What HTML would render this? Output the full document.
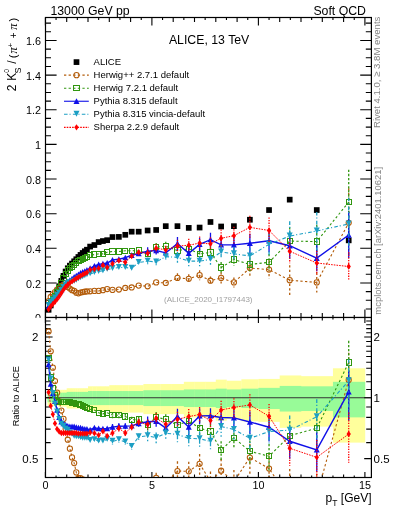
<!DOCTYPE html><html><head><meta charset="utf-8"><style>html,body{margin:0;padding:0;background:#fff;}svg{display:block;font-family:"Liberation Sans",sans-serif;will-change:transform;}</style></head><body>
<svg width="393" height="512" viewBox="0 0 393 512">
<rect width="393" height="512" fill="#fff"/>
<text x="50.4" y="14.5" font-size="12.3" fill="#000">13000 GeV pp</text>
<text x="366" y="14.5" font-size="12.3" fill="#000" text-anchor="end">Soft QCD</text>
<text transform="translate(379.7,128) rotate(-90)" font-size="9.6" fill="#858585">Rivet 4.1.0, ≥ 3.8M events</text>
<text transform="translate(380.8,314.7) rotate(-90)" font-size="9.45" fill="#858585">mcplots.cern.ch [arXiv:2401.10621]</text>
<defs><clipPath id="cu"><rect x="45.4" y="17.5" width="326" height="300"/></clipPath><clipPath id="cl"><rect x="45.4" y="317.5" width="326" height="160"/></clipPath></defs>
<text x="41" y="322.2" font-size="10.8" text-anchor="end" fill="#000">0</text>
<text x="41" y="287.56" font-size="10.8" text-anchor="end" fill="#000">0.2</text>
<text x="41" y="252.92" font-size="10.8" text-anchor="end" fill="#000">0.4</text>
<text x="41" y="218.28" font-size="10.8" text-anchor="end" fill="#000">0.6</text>
<text x="41" y="183.64" font-size="10.8" text-anchor="end" fill="#000">0.8</text>
<text x="41" y="149" font-size="10.8" text-anchor="end" fill="#000">1</text>
<text x="41" y="114.36" font-size="10.8" text-anchor="end" fill="#000">1.2</text>
<text x="41" y="79.72" font-size="10.8" text-anchor="end" fill="#000">1.4</text>
<text x="41" y="45.08" font-size="10.8" text-anchor="end" fill="#000">1.6</text>
<g transform="translate(16.3,90.8) rotate(-90)" fill="#000"><text x="-0.4" y="0" font-size="12">2</text><text x="10" y="0" font-size="12">K</text><text x="18" y="-7.6" font-size="6.8">0</text><text x="17.2" y="4.8" font-size="9">S</text><text x="27" y="-0.2" font-size="12">/</text><text x="32.6" y="0.3" font-size="11.5">(</text><text x="37.2" y="0.6" font-size="12.5" font-family="Liberation Serif" font-style="italic">π</text><text x="43.2" y="-3.8" font-size="8">+</text><text x="52.5" y="0.4" font-size="10">+</text><text x="61.1" y="0.6" font-size="12.5" font-family="Liberation Serif" font-style="italic">π</text><text x="69.4" y="0.3" font-size="11.5">)</text></g>
<path d="M45.4 17.5v8 M45.4 317.5v-8 M56.05 17.5v2.5 M56.05 317.5v-2.5 M66.7 17.5v4.5 M66.7 317.5v-4.5 M77.35 17.5v2.5 M77.35 317.5v-2.5 M88 17.5v4.5 M88 317.5v-4.5 M98.65 17.5v2.5 M98.65 317.5v-2.5 M109.3 17.5v4.5 M109.3 317.5v-4.5 M119.95 17.5v2.5 M119.95 317.5v-2.5 M130.6 17.5v4.5 M130.6 317.5v-4.5 M141.25 17.5v2.5 M141.25 317.5v-2.5 M151.9 17.5v8 M151.9 317.5v-8 M162.55 17.5v2.5 M162.55 317.5v-2.5 M173.2 17.5v4.5 M173.2 317.5v-4.5 M183.85 17.5v2.5 M183.85 317.5v-2.5 M194.5 17.5v4.5 M194.5 317.5v-4.5 M205.15 17.5v2.5 M205.15 317.5v-2.5 M215.8 17.5v4.5 M215.8 317.5v-4.5 M226.45 17.5v2.5 M226.45 317.5v-2.5 M237.1 17.5v4.5 M237.1 317.5v-4.5 M247.75 17.5v2.5 M247.75 317.5v-2.5 M258.4 17.5v8 M258.4 317.5v-8 M269.05 17.5v2.5 M269.05 317.5v-2.5 M279.7 17.5v4.5 M279.7 317.5v-4.5 M290.35 17.5v2.5 M290.35 317.5v-2.5 M301 17.5v4.5 M301 317.5v-4.5 M311.65 17.5v2.5 M311.65 317.5v-2.5 M322.3 17.5v4.5 M322.3 317.5v-4.5 M332.95 17.5v2.5 M332.95 317.5v-2.5 M343.6 17.5v4.5 M343.6 317.5v-4.5 M354.25 17.5v2.5 M354.25 317.5v-2.5 M364.9 17.5v8 M364.9 317.5v-8 M45.4 317.6h11.2 M371.4 317.6h-11.2 M45.4 308.94h5.6 M371.4 308.94h-5.6 M45.4 300.28h5.6 M371.4 300.28h-5.6 M45.4 291.62h5.6 M371.4 291.62h-5.6 M45.4 282.96h11.2 M371.4 282.96h-11.2 M45.4 274.3h5.6 M371.4 274.3h-5.6 M45.4 265.64h5.6 M371.4 265.64h-5.6 M45.4 256.98h5.6 M371.4 256.98h-5.6 M45.4 248.32h11.2 M371.4 248.32h-11.2 M45.4 239.66h5.6 M371.4 239.66h-5.6 M45.4 231h5.6 M371.4 231h-5.6 M45.4 222.34h5.6 M371.4 222.34h-5.6 M45.4 213.68h11.2 M371.4 213.68h-11.2 M45.4 205.02h5.6 M371.4 205.02h-5.6 M45.4 196.36h5.6 M371.4 196.36h-5.6 M45.4 187.7h5.6 M371.4 187.7h-5.6 M45.4 179.04h11.2 M371.4 179.04h-11.2 M45.4 170.38h5.6 M371.4 170.38h-5.6 M45.4 161.72h5.6 M371.4 161.72h-5.6 M45.4 153.06h5.6 M371.4 153.06h-5.6 M45.4 144.4h11.2 M371.4 144.4h-11.2 M45.4 135.74h5.6 M371.4 135.74h-5.6 M45.4 127.08h5.6 M371.4 127.08h-5.6 M45.4 118.42h5.6 M371.4 118.42h-5.6 M45.4 109.76h11.2 M371.4 109.76h-11.2 M45.4 101.1h5.6 M371.4 101.1h-5.6 M45.4 92.44h5.6 M371.4 92.44h-5.6 M45.4 83.78h5.6 M371.4 83.78h-5.6 M45.4 75.12h11.2 M371.4 75.12h-11.2 M45.4 66.46h5.6 M371.4 66.46h-5.6 M45.4 57.8h5.6 M371.4 57.8h-5.6 M45.4 49.14h5.6 M371.4 49.14h-5.6 M45.4 40.48h11.2 M371.4 40.48h-11.2 M45.4 31.82h5.6 M371.4 31.82h-5.6 M45.4 23.16h5.6 M371.4 23.16h-5.6" stroke="#000" stroke-width="1.1" fill="none"/>
<g clip-path="url(#cu)">
<text x="164" y="301.8" font-size="8" fill="#a0a0a0">(ALICE_2020_I1797443)</text>
<rect x="45.74" y="306.96" width="5.7" height="5.7" fill="#000"/>
<rect x="47.88" y="302.63" width="5.7" height="5.7" fill="#000"/>
<rect x="50" y="298.3" width="5.7" height="5.7" fill="#000"/>
<rect x="52.13" y="293.62" width="5.7" height="5.7" fill="#000"/>
<rect x="54.27" y="288.42" width="5.7" height="5.7" fill="#000"/>
<rect x="56.39" y="283.4" width="5.7" height="5.7" fill="#000"/>
<rect x="58.52" y="278.03" width="5.7" height="5.7" fill="#000"/>
<rect x="60.66" y="273.01" width="5.7" height="5.7" fill="#000"/>
<rect x="62.78" y="268.68" width="5.7" height="5.7" fill="#000"/>
<rect x="64.92" y="265.39" width="5.7" height="5.7" fill="#000"/>
<rect x="67.05" y="262.79" width="5.7" height="5.7" fill="#000"/>
<rect x="69.18" y="260.71" width="5.7" height="5.7" fill="#000"/>
<rect x="71.31" y="258.46" width="5.7" height="5.7" fill="#000"/>
<rect x="73.44" y="256.38" width="5.7" height="5.7" fill="#000"/>
<rect x="75.56" y="254.13" width="5.7" height="5.7" fill="#000"/>
<rect x="77.69" y="252.05" width="5.7" height="5.7" fill="#000"/>
<rect x="79.83" y="250.15" width="5.7" height="5.7" fill="#000"/>
<rect x="81.96" y="248.41" width="5.7" height="5.7" fill="#000"/>
<rect x="84.09" y="246.86" width="5.7" height="5.7" fill="#000"/>
<rect x="87.28" y="243.74" width="5.7" height="5.7" fill="#000"/>
<rect x="91.54" y="242.18" width="5.7" height="5.7" fill="#000"/>
<rect x="95.8" y="239.23" width="5.7" height="5.7" fill="#000"/>
<rect x="100.06" y="238.2" width="5.7" height="5.7" fill="#000"/>
<rect x="104.32" y="237.33" width="5.7" height="5.7" fill="#000"/>
<rect x="109.65" y="234.21" width="5.7" height="5.7" fill="#000"/>
<rect x="116.03" y="234.04" width="5.7" height="5.7" fill="#000"/>
<rect x="122.43" y="231.96" width="5.7" height="5.7" fill="#000"/>
<rect x="128.81" y="228.84" width="5.7" height="5.7" fill="#000"/>
<rect x="135.84" y="228.84" width="5.7" height="5.7" fill="#000"/>
<rect x="144.79" y="227.63" width="5.7" height="5.7" fill="#000"/>
<rect x="153.31" y="227.11" width="5.7" height="5.7" fill="#000"/>
<rect x="162.9" y="223.3" width="5.7" height="5.7" fill="#000"/>
<rect x="174.61" y="223.3" width="5.7" height="5.7" fill="#000"/>
<rect x="185.9" y="225.03" width="5.7" height="5.7" fill="#000"/>
<rect x="196.76" y="224.69" width="5.7" height="5.7" fill="#000"/>
<rect x="207.63" y="219.14" width="5.7" height="5.7" fill="#000"/>
<rect x="218.28" y="223.65" width="5.7" height="5.7" fill="#000"/>
<rect x="231.06" y="223.3" width="5.7" height="5.7" fill="#000"/>
<rect x="247.03" y="216.89" width="5.7" height="5.7" fill="#000"/>
<rect x="266.2" y="207.19" width="5.7" height="5.7" fill="#000"/>
<rect x="286.86" y="196.8" width="5.7" height="5.7" fill="#000"/>
<rect x="313.91" y="207.19" width="5.7" height="5.7" fill="#000"/>
<rect x="345.86" y="237.5" width="5.7" height="5.7" fill="#000"/>
<polyline points="48.59,301 50.73,296.99 52.85,294.4 54.98,292.03 57.12,289.69 59.24,287.5 61.38,285.84 63.51,284.79 65.63,285.35 67.77,287 69.89,288.5 72.03,290.2 74.16,290.86 76.28,292.68 78.41,293.35 80.54,292.52 82.67,292.08 84.81,291.73 86.94,291.46 90.13,291.27 94.39,290.93 98.65,290.93 102.91,290.23 107.17,289.02 112.5,289.89 118.88,289.54 125.28,287.98 131.66,287.46 138.69,285.56 147.64,286.25 156.16,282.44 165.75,282.96 177.46,277.94 188.75,278.8 199.61,275.17 210.48,280.71 221.12,277.94 233.91,282.44 249.88,268.06 269.05,269.62 289.71,280.19 316.76,282.44 348.71,222.86" fill="none" stroke="#b35c0a" stroke-width="1.1" stroke-dasharray="2.3,2.3"/>
<line x1="177.46" y1="273.3" x2="177.46" y2="282.58" stroke="#b35c0a" stroke-width="1.3" stroke-dasharray="2.3,2.3"/>
<line x1="188.75" y1="274.26" x2="188.75" y2="283.34" stroke="#b35c0a" stroke-width="1.3" stroke-dasharray="2.3,2.3"/>
<line x1="199.61" y1="270.2" x2="199.61" y2="280.13" stroke="#b35c0a" stroke-width="1.3" stroke-dasharray="2.3,2.3"/>
<line x1="210.48" y1="276.39" x2="210.48" y2="285.02" stroke="#b35c0a" stroke-width="1.3" stroke-dasharray="2.3,2.3"/>
<line x1="221.12" y1="272.27" x2="221.12" y2="283.61" stroke="#b35c0a" stroke-width="1.3" stroke-dasharray="2.3,2.3"/>
<line x1="233.91" y1="277.41" x2="233.91" y2="287.47" stroke="#b35c0a" stroke-width="1.3" stroke-dasharray="2.3,2.3"/>
<line x1="249.88" y1="259.69" x2="249.88" y2="276.44" stroke="#b35c0a" stroke-width="1.3" stroke-dasharray="2.3,2.3"/>
<line x1="269.05" y1="260.27" x2="269.05" y2="278.98" stroke="#b35c0a" stroke-width="1.3" stroke-dasharray="2.3,2.3"/>
<line x1="289.71" y1="265.22" x2="289.71" y2="295.15" stroke="#b35c0a" stroke-width="1.3" stroke-dasharray="2.3,2.3"/>
<line x1="316.76" y1="272.38" x2="316.76" y2="292.5" stroke="#b35c0a" stroke-width="1.3" stroke-dasharray="2.3,2.3"/>
<line x1="348.71" y1="188.37" x2="348.71" y2="257.35" stroke="#b35c0a" stroke-width="1.3" stroke-dasharray="2.3,2.3"/>
<circle cx="48.59" cy="301" r="2.6" fill="none" stroke="#b35c0a" stroke-width="1.05"/>
<circle cx="50.73" cy="296.99" r="2.6" fill="none" stroke="#b35c0a" stroke-width="1.05"/>
<circle cx="52.85" cy="294.4" r="2.6" fill="none" stroke="#b35c0a" stroke-width="1.05"/>
<circle cx="54.98" cy="292.03" r="2.6" fill="none" stroke="#b35c0a" stroke-width="1.05"/>
<circle cx="57.12" cy="289.69" r="2.6" fill="none" stroke="#b35c0a" stroke-width="1.05"/>
<circle cx="59.24" cy="287.5" r="2.6" fill="none" stroke="#b35c0a" stroke-width="1.05"/>
<circle cx="61.38" cy="285.84" r="2.6" fill="none" stroke="#b35c0a" stroke-width="1.05"/>
<circle cx="63.51" cy="284.79" r="2.6" fill="none" stroke="#b35c0a" stroke-width="1.05"/>
<circle cx="65.63" cy="285.35" r="2.6" fill="none" stroke="#b35c0a" stroke-width="1.05"/>
<circle cx="67.77" cy="287" r="2.6" fill="none" stroke="#b35c0a" stroke-width="1.05"/>
<circle cx="69.89" cy="288.5" r="2.6" fill="none" stroke="#b35c0a" stroke-width="1.05"/>
<circle cx="72.03" cy="290.2" r="2.6" fill="none" stroke="#b35c0a" stroke-width="1.05"/>
<circle cx="74.16" cy="290.86" r="2.6" fill="none" stroke="#b35c0a" stroke-width="1.05"/>
<circle cx="76.28" cy="292.68" r="2.6" fill="none" stroke="#b35c0a" stroke-width="1.05"/>
<circle cx="78.41" cy="293.35" r="2.6" fill="none" stroke="#b35c0a" stroke-width="1.05"/>
<circle cx="80.54" cy="292.52" r="2.6" fill="none" stroke="#b35c0a" stroke-width="1.05"/>
<circle cx="82.67" cy="292.08" r="2.6" fill="none" stroke="#b35c0a" stroke-width="1.05"/>
<circle cx="84.81" cy="291.73" r="2.6" fill="none" stroke="#b35c0a" stroke-width="1.05"/>
<circle cx="86.94" cy="291.46" r="2.6" fill="none" stroke="#b35c0a" stroke-width="1.05"/>
<circle cx="90.13" cy="291.27" r="2.6" fill="none" stroke="#b35c0a" stroke-width="1.05"/>
<circle cx="94.39" cy="290.93" r="2.6" fill="none" stroke="#b35c0a" stroke-width="1.05"/>
<circle cx="98.65" cy="290.93" r="2.6" fill="none" stroke="#b35c0a" stroke-width="1.05"/>
<circle cx="102.91" cy="290.23" r="2.6" fill="none" stroke="#b35c0a" stroke-width="1.05"/>
<circle cx="107.17" cy="289.02" r="2.6" fill="none" stroke="#b35c0a" stroke-width="1.05"/>
<circle cx="112.5" cy="289.89" r="2.6" fill="none" stroke="#b35c0a" stroke-width="1.05"/>
<circle cx="118.88" cy="289.54" r="2.6" fill="none" stroke="#b35c0a" stroke-width="1.05"/>
<circle cx="125.28" cy="287.98" r="2.6" fill="none" stroke="#b35c0a" stroke-width="1.05"/>
<circle cx="131.66" cy="287.46" r="2.6" fill="none" stroke="#b35c0a" stroke-width="1.05"/>
<circle cx="138.69" cy="285.56" r="2.6" fill="none" stroke="#b35c0a" stroke-width="1.05"/>
<circle cx="147.64" cy="286.25" r="2.6" fill="none" stroke="#b35c0a" stroke-width="1.05"/>
<circle cx="156.16" cy="282.44" r="2.6" fill="none" stroke="#b35c0a" stroke-width="1.05"/>
<circle cx="165.75" cy="282.96" r="2.6" fill="none" stroke="#b35c0a" stroke-width="1.05"/>
<circle cx="177.46" cy="277.94" r="2.6" fill="none" stroke="#b35c0a" stroke-width="1.05"/>
<circle cx="188.75" cy="278.8" r="2.6" fill="none" stroke="#b35c0a" stroke-width="1.05"/>
<circle cx="199.61" cy="275.17" r="2.6" fill="none" stroke="#b35c0a" stroke-width="1.05"/>
<circle cx="210.48" cy="280.71" r="2.6" fill="none" stroke="#b35c0a" stroke-width="1.05"/>
<circle cx="221.12" cy="277.94" r="2.6" fill="none" stroke="#b35c0a" stroke-width="1.05"/>
<circle cx="233.91" cy="282.44" r="2.6" fill="none" stroke="#b35c0a" stroke-width="1.05"/>
<circle cx="249.88" cy="268.06" r="2.6" fill="none" stroke="#b35c0a" stroke-width="1.05"/>
<circle cx="269.05" cy="269.62" r="2.6" fill="none" stroke="#b35c0a" stroke-width="1.05"/>
<circle cx="289.71" cy="280.19" r="2.6" fill="none" stroke="#b35c0a" stroke-width="1.05"/>
<circle cx="316.76" cy="282.44" r="2.6" fill="none" stroke="#b35c0a" stroke-width="1.05"/>
<circle cx="348.71" cy="222.86" r="2.6" fill="none" stroke="#b35c0a" stroke-width="1.05"/>
<polyline points="48.59,305.36 50.73,302.32 52.85,299.17 54.98,295.84 57.12,292.33 59.24,287.82 61.38,282.72 63.51,277.95 65.63,273.6 67.77,270.46 69.89,268.24 72.03,266.53 74.16,264.69 76.28,263.03 78.41,261.22 80.54,259.92 82.67,258.81 84.81,257.9 86.94,257.17 90.13,255.25 94.39,254.56 98.65,253.86 102.91,253.86 107.17,252.3 112.5,251.44 118.88,251.44 125.28,250.74 131.66,250.74 138.69,250.57 147.64,253.86 156.16,247.28 165.75,246.07 177.46,250.57 188.75,248.84 199.61,253.86 210.48,252.48 221.12,267.55 233.91,259.58 249.88,264.43 269.05,262.35 289.71,241.05 316.76,241.57 348.71,202.08" fill="none" stroke="#30960f" stroke-width="1.1" stroke-dasharray="2.3,2.3"/>
<line x1="147.64" y1="250.04" x2="147.64" y2="257.69" stroke="#30960f" stroke-width="1.3" stroke-dasharray="2.3,1.8"/>
<line x1="156.16" y1="243.06" x2="156.16" y2="251.5" stroke="#30960f" stroke-width="1.3" stroke-dasharray="2.3,1.8"/>
<line x1="165.75" y1="241.78" x2="165.75" y2="250.36" stroke="#30960f" stroke-width="1.3" stroke-dasharray="2.3,1.8"/>
<line x1="177.46" y1="244.54" x2="177.46" y2="256.6" stroke="#30960f" stroke-width="1.3" stroke-dasharray="2.3,1.8"/>
<line x1="188.75" y1="242.65" x2="188.75" y2="255.03" stroke="#30960f" stroke-width="1.3" stroke-dasharray="2.3,1.8"/>
<line x1="199.61" y1="248.13" x2="199.61" y2="259.6" stroke="#30960f" stroke-width="1.3" stroke-dasharray="2.3,1.8"/>
<line x1="210.48" y1="246.62" x2="210.48" y2="258.34" stroke="#30960f" stroke-width="1.3" stroke-dasharray="2.3,1.8"/>
<line x1="221.12" y1="262.04" x2="221.12" y2="273.05" stroke="#30960f" stroke-width="1.3" stroke-dasharray="2.3,1.8"/>
<line x1="233.91" y1="253.2" x2="233.91" y2="265.96" stroke="#30960f" stroke-width="1.3" stroke-dasharray="2.3,1.8"/>
<line x1="249.88" y1="257.52" x2="249.88" y2="271.34" stroke="#30960f" stroke-width="1.3" stroke-dasharray="2.3,1.8"/>
<line x1="269.05" y1="254.06" x2="269.05" y2="270.64" stroke="#30960f" stroke-width="1.3" stroke-dasharray="2.3,1.8"/>
<line x1="289.71" y1="227.27" x2="289.71" y2="254.83" stroke="#30960f" stroke-width="1.3" stroke-dasharray="2.3,1.8"/>
<line x1="316.76" y1="224.84" x2="316.76" y2="258.29" stroke="#30960f" stroke-width="1.3" stroke-dasharray="2.3,1.8"/>
<line x1="348.71" y1="169.73" x2="348.71" y2="234.42" stroke="#30960f" stroke-width="1.3" stroke-dasharray="2.3,1.8"/>
<rect x="45.99" y="302.76" width="5.2" height="5.2" fill="none" stroke="#30960f" stroke-width="1" shape-rendering="crispEdges"/>
<rect x="48.12" y="299.72" width="5.2" height="5.2" fill="none" stroke="#30960f" stroke-width="1" shape-rendering="crispEdges"/>
<rect x="50.25" y="296.57" width="5.2" height="5.2" fill="none" stroke="#30960f" stroke-width="1" shape-rendering="crispEdges"/>
<rect x="52.38" y="293.24" width="5.2" height="5.2" fill="none" stroke="#30960f" stroke-width="1" shape-rendering="crispEdges"/>
<rect x="54.52" y="289.73" width="5.2" height="5.2" fill="none" stroke="#30960f" stroke-width="1" shape-rendering="crispEdges"/>
<rect x="56.64" y="285.22" width="5.2" height="5.2" fill="none" stroke="#30960f" stroke-width="1" shape-rendering="crispEdges"/>
<rect x="58.77" y="280.12" width="5.2" height="5.2" fill="none" stroke="#30960f" stroke-width="1" shape-rendering="crispEdges"/>
<rect x="60.91" y="275.35" width="5.2" height="5.2" fill="none" stroke="#30960f" stroke-width="1" shape-rendering="crispEdges"/>
<rect x="63.03" y="271" width="5.2" height="5.2" fill="none" stroke="#30960f" stroke-width="1" shape-rendering="crispEdges"/>
<rect x="65.17" y="267.86" width="5.2" height="5.2" fill="none" stroke="#30960f" stroke-width="1" shape-rendering="crispEdges"/>
<rect x="67.3" y="265.64" width="5.2" height="5.2" fill="none" stroke="#30960f" stroke-width="1" shape-rendering="crispEdges"/>
<rect x="69.43" y="263.93" width="5.2" height="5.2" fill="none" stroke="#30960f" stroke-width="1" shape-rendering="crispEdges"/>
<rect x="71.56" y="262.09" width="5.2" height="5.2" fill="none" stroke="#30960f" stroke-width="1" shape-rendering="crispEdges"/>
<rect x="73.69" y="260.43" width="5.2" height="5.2" fill="none" stroke="#30960f" stroke-width="1" shape-rendering="crispEdges"/>
<rect x="75.81" y="258.62" width="5.2" height="5.2" fill="none" stroke="#30960f" stroke-width="1" shape-rendering="crispEdges"/>
<rect x="77.94" y="257.32" width="5.2" height="5.2" fill="none" stroke="#30960f" stroke-width="1" shape-rendering="crispEdges"/>
<rect x="80.08" y="256.21" width="5.2" height="5.2" fill="none" stroke="#30960f" stroke-width="1" shape-rendering="crispEdges"/>
<rect x="82.21" y="255.3" width="5.2" height="5.2" fill="none" stroke="#30960f" stroke-width="1" shape-rendering="crispEdges"/>
<rect x="84.34" y="254.57" width="5.2" height="5.2" fill="none" stroke="#30960f" stroke-width="1" shape-rendering="crispEdges"/>
<rect x="87.53" y="252.65" width="5.2" height="5.2" fill="none" stroke="#30960f" stroke-width="1" shape-rendering="crispEdges"/>
<rect x="91.79" y="251.96" width="5.2" height="5.2" fill="none" stroke="#30960f" stroke-width="1" shape-rendering="crispEdges"/>
<rect x="96.05" y="251.26" width="5.2" height="5.2" fill="none" stroke="#30960f" stroke-width="1" shape-rendering="crispEdges"/>
<rect x="100.31" y="251.26" width="5.2" height="5.2" fill="none" stroke="#30960f" stroke-width="1" shape-rendering="crispEdges"/>
<rect x="104.57" y="249.7" width="5.2" height="5.2" fill="none" stroke="#30960f" stroke-width="1" shape-rendering="crispEdges"/>
<rect x="109.9" y="248.84" width="5.2" height="5.2" fill="none" stroke="#30960f" stroke-width="1" shape-rendering="crispEdges"/>
<rect x="116.28" y="248.84" width="5.2" height="5.2" fill="none" stroke="#30960f" stroke-width="1" shape-rendering="crispEdges"/>
<rect x="122.68" y="248.14" width="5.2" height="5.2" fill="none" stroke="#30960f" stroke-width="1" shape-rendering="crispEdges"/>
<rect x="129.06" y="248.14" width="5.2" height="5.2" fill="none" stroke="#30960f" stroke-width="1" shape-rendering="crispEdges"/>
<rect x="136.09" y="247.97" width="5.2" height="5.2" fill="none" stroke="#30960f" stroke-width="1" shape-rendering="crispEdges"/>
<rect x="145.04" y="251.26" width="5.2" height="5.2" fill="none" stroke="#30960f" stroke-width="1" shape-rendering="crispEdges"/>
<rect x="153.56" y="244.68" width="5.2" height="5.2" fill="none" stroke="#30960f" stroke-width="1" shape-rendering="crispEdges"/>
<rect x="163.15" y="243.47" width="5.2" height="5.2" fill="none" stroke="#30960f" stroke-width="1" shape-rendering="crispEdges"/>
<rect x="174.86" y="247.97" width="5.2" height="5.2" fill="none" stroke="#30960f" stroke-width="1" shape-rendering="crispEdges"/>
<rect x="186.15" y="246.24" width="5.2" height="5.2" fill="none" stroke="#30960f" stroke-width="1" shape-rendering="crispEdges"/>
<rect x="197.01" y="251.26" width="5.2" height="5.2" fill="none" stroke="#30960f" stroke-width="1" shape-rendering="crispEdges"/>
<rect x="207.88" y="249.88" width="5.2" height="5.2" fill="none" stroke="#30960f" stroke-width="1" shape-rendering="crispEdges"/>
<rect x="218.53" y="264.95" width="5.2" height="5.2" fill="none" stroke="#30960f" stroke-width="1" shape-rendering="crispEdges"/>
<rect x="231.31" y="256.98" width="5.2" height="5.2" fill="none" stroke="#30960f" stroke-width="1" shape-rendering="crispEdges"/>
<rect x="247.28" y="261.83" width="5.2" height="5.2" fill="none" stroke="#30960f" stroke-width="1" shape-rendering="crispEdges"/>
<rect x="266.45" y="259.75" width="5.2" height="5.2" fill="none" stroke="#30960f" stroke-width="1" shape-rendering="crispEdges"/>
<rect x="287.11" y="238.45" width="5.2" height="5.2" fill="none" stroke="#30960f" stroke-width="1" shape-rendering="crispEdges"/>
<rect x="314.16" y="238.97" width="5.2" height="5.2" fill="none" stroke="#30960f" stroke-width="1" shape-rendering="crispEdges"/>
<rect x="346.11" y="199.48" width="5.2" height="5.2" fill="none" stroke="#30960f" stroke-width="1" shape-rendering="crispEdges"/>
<polyline points="48.59,306.22 50.73,303.41 52.85,300.32 54.98,297.31 57.12,294.7 59.24,292.52 61.38,289.69 63.51,286.5 65.63,283.74 67.77,281.81 69.89,280.19 72.03,278.69 74.16,277.07 76.28,275.87 78.41,274.56 80.54,273.08 82.67,272.05 84.81,271.17 86.94,270.07 90.13,268.24 94.39,265.99 98.65,264.43 102.91,263.73 107.17,263.04 112.5,259.92 118.88,259.23 125.28,257.67 131.66,255.25 138.69,253.52 147.64,251.26 156.16,250.57 165.75,252.82 177.46,243.64 188.75,253.34 199.61,244.34 210.48,239.66 221.12,244.86 233.91,244.86 249.88,243.3 269.05,240.7 289.71,245.72 316.76,258.19 348.71,234.98" fill="none" stroke="#1010e8" stroke-width="1.4"/>
<line x1="147.64" y1="247.28" x2="147.64" y2="255.24" stroke="#1010e8" stroke-width="1.3"/>
<line x1="156.16" y1="246.55" x2="156.16" y2="254.59" stroke="#1010e8" stroke-width="1.3"/>
<line x1="165.75" y1="248.94" x2="165.75" y2="256.71" stroke="#1010e8" stroke-width="1.3"/>
<line x1="177.46" y1="236.99" x2="177.46" y2="250.3" stroke="#1010e8" stroke-width="1.3"/>
<line x1="188.75" y1="247.56" x2="188.75" y2="259.13" stroke="#1010e8" stroke-width="1.3"/>
<line x1="199.61" y1="237.74" x2="199.61" y2="250.93" stroke="#1010e8" stroke-width="1.3"/>
<line x1="210.48" y1="232.65" x2="210.48" y2="246.67" stroke="#1010e8" stroke-width="1.3"/>
<line x1="221.12" y1="236.85" x2="221.12" y2="252.86" stroke="#1010e8" stroke-width="1.3"/>
<line x1="233.91" y1="236.85" x2="233.91" y2="252.86" stroke="#1010e8" stroke-width="1.3"/>
<line x1="249.88" y1="233.64" x2="249.88" y2="252.96" stroke="#1010e8" stroke-width="1.3"/>
<line x1="269.05" y1="229.16" x2="269.05" y2="252.23" stroke="#1010e8" stroke-width="1.3"/>
<line x1="289.71" y1="232.78" x2="289.71" y2="258.66" stroke="#1010e8" stroke-width="1.3"/>
<line x1="316.76" y1="245.12" x2="316.76" y2="271.26" stroke="#1010e8" stroke-width="1.3"/>
<line x1="348.71" y1="211.85" x2="348.71" y2="258.12" stroke="#1010e8" stroke-width="1.3"/>
<path d="M48.59 303.22l3 5.7h-6z" fill="#1010e8"/>
<path d="M50.73 300.41l3 5.7h-6z" fill="#1010e8"/>
<path d="M52.85 297.32l3 5.7h-6z" fill="#1010e8"/>
<path d="M54.98 294.31l3 5.7h-6z" fill="#1010e8"/>
<path d="M57.12 291.7l3 5.7h-6z" fill="#1010e8"/>
<path d="M59.24 289.52l3 5.7h-6z" fill="#1010e8"/>
<path d="M61.38 286.69l3 5.7h-6z" fill="#1010e8"/>
<path d="M63.51 283.5l3 5.7h-6z" fill="#1010e8"/>
<path d="M65.63 280.74l3 5.7h-6z" fill="#1010e8"/>
<path d="M67.77 278.81l3 5.7h-6z" fill="#1010e8"/>
<path d="M69.89 277.19l3 5.7h-6z" fill="#1010e8"/>
<path d="M72.03 275.69l3 5.7h-6z" fill="#1010e8"/>
<path d="M74.16 274.07l3 5.7h-6z" fill="#1010e8"/>
<path d="M76.28 272.87l3 5.7h-6z" fill="#1010e8"/>
<path d="M78.41 271.56l3 5.7h-6z" fill="#1010e8"/>
<path d="M80.54 270.08l3 5.7h-6z" fill="#1010e8"/>
<path d="M82.67 269.05l3 5.7h-6z" fill="#1010e8"/>
<path d="M84.81 268.17l3 5.7h-6z" fill="#1010e8"/>
<path d="M86.94 267.07l3 5.7h-6z" fill="#1010e8"/>
<path d="M90.13 265.24l3 5.7h-6z" fill="#1010e8"/>
<path d="M94.39 262.99l3 5.7h-6z" fill="#1010e8"/>
<path d="M98.65 261.43l3 5.7h-6z" fill="#1010e8"/>
<path d="M102.91 260.73l3 5.7h-6z" fill="#1010e8"/>
<path d="M107.17 260.04l3 5.7h-6z" fill="#1010e8"/>
<path d="M112.5 256.92l3 5.7h-6z" fill="#1010e8"/>
<path d="M118.88 256.23l3 5.7h-6z" fill="#1010e8"/>
<path d="M125.28 254.67l3 5.7h-6z" fill="#1010e8"/>
<path d="M131.66 252.25l3 5.7h-6z" fill="#1010e8"/>
<path d="M138.69 250.52l3 5.7h-6z" fill="#1010e8"/>
<path d="M147.64 248.26l3 5.7h-6z" fill="#1010e8"/>
<path d="M156.16 247.57l3 5.7h-6z" fill="#1010e8"/>
<path d="M165.75 249.82l3 5.7h-6z" fill="#1010e8"/>
<path d="M177.46 240.64l3 5.7h-6z" fill="#1010e8"/>
<path d="M188.75 250.34l3 5.7h-6z" fill="#1010e8"/>
<path d="M199.61 241.34l3 5.7h-6z" fill="#1010e8"/>
<path d="M210.48 236.66l3 5.7h-6z" fill="#1010e8"/>
<path d="M221.12 241.86l3 5.7h-6z" fill="#1010e8"/>
<path d="M233.91 241.86l3 5.7h-6z" fill="#1010e8"/>
<path d="M249.88 240.3l3 5.7h-6z" fill="#1010e8"/>
<path d="M269.05 237.7l3 5.7h-6z" fill="#1010e8"/>
<path d="M289.71 242.72l3 5.7h-6z" fill="#1010e8"/>
<path d="M316.76 255.19l3 5.7h-6z" fill="#1010e8"/>
<path d="M348.71 231.98l3 5.7h-6z" fill="#1010e8"/>
<polyline points="48.59,305.6 50.73,302.57 52.85,300.32 54.98,297.95 57.12,295.22 59.24,293.15 61.38,290.43 63.51,287.55 65.63,285.35 67.77,283.54 69.89,282.79 72.03,281.93 74.16,281.29 76.28,280.24 78.41,278.8 80.54,277.79 82.67,276.9 84.81,275.81 86.94,274.83 90.13,273.95 94.39,272.57 98.65,271.53 102.91,270.84 107.17,269.45 112.5,268.58 118.88,267.55 125.28,267.55 131.66,268.24 138.69,262.52 147.64,261.14 156.16,262 165.75,256.63 177.46,257.33 188.75,261.14 199.61,261.14 210.48,259.4 221.12,251.96 233.91,253.86 249.88,255.94 269.05,244.34 289.71,236.02 316.76,231 348.71,223.9" fill="none" stroke="#1c9fc4" stroke-width="1.1" stroke-dasharray="3.6,1.9,1.1,2.3"/>
<line x1="147.64" y1="257.75" x2="147.64" y2="264.52" stroke="#1c9fc4" stroke-width="1.3" stroke-dasharray="3.6,1.9,1.1,2.3"/>
<line x1="156.16" y1="258.67" x2="156.16" y2="265.34" stroke="#1c9fc4" stroke-width="1.3" stroke-dasharray="3.6,1.9,1.1,2.3"/>
<line x1="165.75" y1="252.98" x2="165.75" y2="260.29" stroke="#1c9fc4" stroke-width="1.3" stroke-dasharray="3.6,1.9,1.1,2.3"/>
<line x1="177.46" y1="251.9" x2="177.46" y2="262.75" stroke="#1c9fc4" stroke-width="1.3" stroke-dasharray="3.6,1.9,1.1,2.3"/>
<line x1="188.75" y1="256.06" x2="188.75" y2="266.22" stroke="#1c9fc4" stroke-width="1.3" stroke-dasharray="3.6,1.9,1.1,2.3"/>
<line x1="199.61" y1="256.06" x2="199.61" y2="266.22" stroke="#1c9fc4" stroke-width="1.3" stroke-dasharray="3.6,1.9,1.1,2.3"/>
<line x1="210.48" y1="254.17" x2="210.48" y2="264.64" stroke="#1c9fc4" stroke-width="1.3" stroke-dasharray="3.6,1.9,1.1,2.3"/>
<line x1="221.12" y1="244.74" x2="221.12" y2="259.18" stroke="#1c9fc4" stroke-width="1.3" stroke-dasharray="3.6,1.9,1.1,2.3"/>
<line x1="233.91" y1="246.85" x2="233.91" y2="260.87" stroke="#1c9fc4" stroke-width="1.3" stroke-dasharray="3.6,1.9,1.1,2.3"/>
<line x1="249.88" y1="247.93" x2="249.88" y2="263.96" stroke="#1c9fc4" stroke-width="1.3" stroke-dasharray="3.6,1.9,1.1,2.3"/>
<line x1="269.05" y1="233.35" x2="269.05" y2="255.33" stroke="#1c9fc4" stroke-width="1.3" stroke-dasharray="3.6,1.9,1.1,2.3"/>
<line x1="289.71" y1="221.34" x2="289.71" y2="250.71" stroke="#1c9fc4" stroke-width="1.3" stroke-dasharray="3.6,1.9,1.1,2.3"/>
<line x1="316.76" y1="211.95" x2="316.76" y2="250.05" stroke="#1c9fc4" stroke-width="1.3" stroke-dasharray="3.6,1.9,1.1,2.3"/>
<line x1="348.71" y1="197.66" x2="348.71" y2="250.14" stroke="#1c9fc4" stroke-width="1.3" stroke-dasharray="3.6,1.9,1.1,2.3"/>
<path d="M45.59 302.1h6l-3 5.9z" fill="#1c9fc4"/>
<path d="M47.73 299.07h6l-3 5.9z" fill="#1c9fc4"/>
<path d="M49.85 296.82h6l-3 5.9z" fill="#1c9fc4"/>
<path d="M51.98 294.45h6l-3 5.9z" fill="#1c9fc4"/>
<path d="M54.12 291.72h6l-3 5.9z" fill="#1c9fc4"/>
<path d="M56.24 289.65h6l-3 5.9z" fill="#1c9fc4"/>
<path d="M58.38 286.93h6l-3 5.9z" fill="#1c9fc4"/>
<path d="M60.51 284.05h6l-3 5.9z" fill="#1c9fc4"/>
<path d="M62.63 281.85h6l-3 5.9z" fill="#1c9fc4"/>
<path d="M64.77 280.04h6l-3 5.9z" fill="#1c9fc4"/>
<path d="M66.89 279.29h6l-3 5.9z" fill="#1c9fc4"/>
<path d="M69.03 278.43h6l-3 5.9z" fill="#1c9fc4"/>
<path d="M71.16 277.79h6l-3 5.9z" fill="#1c9fc4"/>
<path d="M73.28 276.74h6l-3 5.9z" fill="#1c9fc4"/>
<path d="M75.41 275.3h6l-3 5.9z" fill="#1c9fc4"/>
<path d="M77.54 274.29h6l-3 5.9z" fill="#1c9fc4"/>
<path d="M79.67 273.4h6l-3 5.9z" fill="#1c9fc4"/>
<path d="M81.81 272.31h6l-3 5.9z" fill="#1c9fc4"/>
<path d="M83.94 271.33h6l-3 5.9z" fill="#1c9fc4"/>
<path d="M87.13 270.45h6l-3 5.9z" fill="#1c9fc4"/>
<path d="M91.39 269.07h6l-3 5.9z" fill="#1c9fc4"/>
<path d="M95.65 268.03h6l-3 5.9z" fill="#1c9fc4"/>
<path d="M99.91 267.34h6l-3 5.9z" fill="#1c9fc4"/>
<path d="M104.17 265.95h6l-3 5.9z" fill="#1c9fc4"/>
<path d="M109.5 265.08h6l-3 5.9z" fill="#1c9fc4"/>
<path d="M115.88 264.05h6l-3 5.9z" fill="#1c9fc4"/>
<path d="M122.28 264.05h6l-3 5.9z" fill="#1c9fc4"/>
<path d="M128.66 264.74h6l-3 5.9z" fill="#1c9fc4"/>
<path d="M135.69 259.02h6l-3 5.9z" fill="#1c9fc4"/>
<path d="M144.64 257.64h6l-3 5.9z" fill="#1c9fc4"/>
<path d="M153.16 258.5h6l-3 5.9z" fill="#1c9fc4"/>
<path d="M162.75 253.13h6l-3 5.9z" fill="#1c9fc4"/>
<path d="M174.46 253.83h6l-3 5.9z" fill="#1c9fc4"/>
<path d="M185.75 257.64h6l-3 5.9z" fill="#1c9fc4"/>
<path d="M196.61 257.64h6l-3 5.9z" fill="#1c9fc4"/>
<path d="M207.48 255.9h6l-3 5.9z" fill="#1c9fc4"/>
<path d="M218.12 248.46h6l-3 5.9z" fill="#1c9fc4"/>
<path d="M230.91 250.36h6l-3 5.9z" fill="#1c9fc4"/>
<path d="M246.88 252.44h6l-3 5.9z" fill="#1c9fc4"/>
<path d="M266.05 240.84h6l-3 5.9z" fill="#1c9fc4"/>
<path d="M286.71 232.52h6l-3 5.9z" fill="#1c9fc4"/>
<path d="M313.76 227.5h6l-3 5.9z" fill="#1c9fc4"/>
<path d="M345.71 220.4h6l-3 5.9z" fill="#1c9fc4"/>
<polyline points="48.59,309.29 50.73,306.54 52.85,303.98 54.98,301.82 57.12,299.17 59.24,296.28 61.38,293 63.51,289.63 65.63,286.73 67.77,284.53 69.89,282.79 72.03,281.39 74.16,279.89 76.28,278.49 78.41,277.29 80.54,275.91 82.67,274.64 84.81,273.49 86.94,272.45 90.13,269.8 94.39,269.1 98.65,268.24 102.91,265.29 107.17,267.55 112.5,263.73 118.88,260.62 125.28,262.18 131.66,256.11 138.69,252.3 147.64,253.34 156.16,248.15 165.75,249.88 177.46,246.07 188.75,245.2 199.61,243.12 210.48,243.82 221.12,238.27 233.91,235.68 249.88,227.36 269.05,230.48 289.71,251.26 316.76,263.04 348.71,266.51" fill="none" stroke="#ff0000" stroke-width="1.0" stroke-dasharray="1.6,1.1"/>
<line x1="147.64" y1="249.49" x2="147.64" y2="257.2" stroke="#ff0000" stroke-width="1.3" stroke-dasharray="1.3,1.3"/>
<line x1="156.16" y1="243.98" x2="156.16" y2="252.31" stroke="#ff0000" stroke-width="1.3" stroke-dasharray="1.3,1.3"/>
<line x1="165.75" y1="245.82" x2="165.75" y2="253.94" stroke="#ff0000" stroke-width="1.3" stroke-dasharray="1.3,1.3"/>
<line x1="177.46" y1="239.63" x2="177.46" y2="252.51" stroke="#ff0000" stroke-width="1.3" stroke-dasharray="1.3,1.3"/>
<line x1="188.75" y1="238.69" x2="188.75" y2="251.72" stroke="#ff0000" stroke-width="1.3" stroke-dasharray="1.3,1.3"/>
<line x1="199.61" y1="236.42" x2="199.61" y2="249.83" stroke="#ff0000" stroke-width="1.3" stroke-dasharray="1.3,1.3"/>
<line x1="210.48" y1="237.18" x2="210.48" y2="250.46" stroke="#ff0000" stroke-width="1.3" stroke-dasharray="1.3,1.3"/>
<line x1="221.12" y1="229.55" x2="221.12" y2="247" stroke="#ff0000" stroke-width="1.3" stroke-dasharray="1.3,1.3"/>
<line x1="233.91" y1="226.66" x2="233.91" y2="244.69" stroke="#ff0000" stroke-width="1.3" stroke-dasharray="1.3,1.3"/>
<line x1="249.88" y1="215.63" x2="249.88" y2="239.09" stroke="#ff0000" stroke-width="1.3" stroke-dasharray="1.3,1.3"/>
<line x1="269.05" y1="217.41" x2="269.05" y2="243.55" stroke="#ff0000" stroke-width="1.3" stroke-dasharray="1.3,1.3"/>
<line x1="289.71" y1="239.32" x2="289.71" y2="263.2" stroke="#ff0000" stroke-width="1.3" stroke-dasharray="1.3,1.3"/>
<line x1="316.76" y1="251.04" x2="316.76" y2="275.04" stroke="#ff0000" stroke-width="1.3" stroke-dasharray="1.3,1.3"/>
<line x1="348.71" y1="252.2" x2="348.71" y2="280.81" stroke="#ff0000" stroke-width="1.3" stroke-dasharray="1.3,1.3"/>
<path d="M48.59 306.09l2.15 3.2l-2.15 3.2l-2.15 -3.2z" fill="#ff0000"/>
<path d="M50.73 303.34l2.15 3.2l-2.15 3.2l-2.15 -3.2z" fill="#ff0000"/>
<path d="M52.85 300.78l2.15 3.2l-2.15 3.2l-2.15 -3.2z" fill="#ff0000"/>
<path d="M54.98 298.62l2.15 3.2l-2.15 3.2l-2.15 -3.2z" fill="#ff0000"/>
<path d="M57.12 295.97l2.15 3.2l-2.15 3.2l-2.15 -3.2z" fill="#ff0000"/>
<path d="M59.24 293.08l2.15 3.2l-2.15 3.2l-2.15 -3.2z" fill="#ff0000"/>
<path d="M61.38 289.8l2.15 3.2l-2.15 3.2l-2.15 -3.2z" fill="#ff0000"/>
<path d="M63.51 286.43l2.15 3.2l-2.15 3.2l-2.15 -3.2z" fill="#ff0000"/>
<path d="M65.63 283.53l2.15 3.2l-2.15 3.2l-2.15 -3.2z" fill="#ff0000"/>
<path d="M67.77 281.33l2.15 3.2l-2.15 3.2l-2.15 -3.2z" fill="#ff0000"/>
<path d="M69.89 279.59l2.15 3.2l-2.15 3.2l-2.15 -3.2z" fill="#ff0000"/>
<path d="M72.03 278.19l2.15 3.2l-2.15 3.2l-2.15 -3.2z" fill="#ff0000"/>
<path d="M74.16 276.69l2.15 3.2l-2.15 3.2l-2.15 -3.2z" fill="#ff0000"/>
<path d="M76.28 275.29l2.15 3.2l-2.15 3.2l-2.15 -3.2z" fill="#ff0000"/>
<path d="M78.41 274.09l2.15 3.2l-2.15 3.2l-2.15 -3.2z" fill="#ff0000"/>
<path d="M80.54 272.71l2.15 3.2l-2.15 3.2l-2.15 -3.2z" fill="#ff0000"/>
<path d="M82.67 271.44l2.15 3.2l-2.15 3.2l-2.15 -3.2z" fill="#ff0000"/>
<path d="M84.81 270.29l2.15 3.2l-2.15 3.2l-2.15 -3.2z" fill="#ff0000"/>
<path d="M86.94 269.25l2.15 3.2l-2.15 3.2l-2.15 -3.2z" fill="#ff0000"/>
<path d="M90.13 266.6l2.15 3.2l-2.15 3.2l-2.15 -3.2z" fill="#ff0000"/>
<path d="M94.39 265.9l2.15 3.2l-2.15 3.2l-2.15 -3.2z" fill="#ff0000"/>
<path d="M98.65 265.04l2.15 3.2l-2.15 3.2l-2.15 -3.2z" fill="#ff0000"/>
<path d="M102.91 262.09l2.15 3.2l-2.15 3.2l-2.15 -3.2z" fill="#ff0000"/>
<path d="M107.17 264.35l2.15 3.2l-2.15 3.2l-2.15 -3.2z" fill="#ff0000"/>
<path d="M112.5 260.53l2.15 3.2l-2.15 3.2l-2.15 -3.2z" fill="#ff0000"/>
<path d="M118.88 257.42l2.15 3.2l-2.15 3.2l-2.15 -3.2z" fill="#ff0000"/>
<path d="M125.28 258.98l2.15 3.2l-2.15 3.2l-2.15 -3.2z" fill="#ff0000"/>
<path d="M131.66 252.91l2.15 3.2l-2.15 3.2l-2.15 -3.2z" fill="#ff0000"/>
<path d="M138.69 249.1l2.15 3.2l-2.15 3.2l-2.15 -3.2z" fill="#ff0000"/>
<path d="M147.64 250.14l2.15 3.2l-2.15 3.2l-2.15 -3.2z" fill="#ff0000"/>
<path d="M156.16 244.95l2.15 3.2l-2.15 3.2l-2.15 -3.2z" fill="#ff0000"/>
<path d="M165.75 246.68l2.15 3.2l-2.15 3.2l-2.15 -3.2z" fill="#ff0000"/>
<path d="M177.46 242.87l2.15 3.2l-2.15 3.2l-2.15 -3.2z" fill="#ff0000"/>
<path d="M188.75 242l2.15 3.2l-2.15 3.2l-2.15 -3.2z" fill="#ff0000"/>
<path d="M199.61 239.92l2.15 3.2l-2.15 3.2l-2.15 -3.2z" fill="#ff0000"/>
<path d="M210.48 240.62l2.15 3.2l-2.15 3.2l-2.15 -3.2z" fill="#ff0000"/>
<path d="M221.12 235.07l2.15 3.2l-2.15 3.2l-2.15 -3.2z" fill="#ff0000"/>
<path d="M233.91 232.48l2.15 3.2l-2.15 3.2l-2.15 -3.2z" fill="#ff0000"/>
<path d="M249.88 224.16l2.15 3.2l-2.15 3.2l-2.15 -3.2z" fill="#ff0000"/>
<path d="M269.05 227.28l2.15 3.2l-2.15 3.2l-2.15 -3.2z" fill="#ff0000"/>
<path d="M289.71 248.06l2.15 3.2l-2.15 3.2l-2.15 -3.2z" fill="#ff0000"/>
<path d="M316.76 259.84l2.15 3.2l-2.15 3.2l-2.15 -3.2z" fill="#ff0000"/>
<path d="M348.71 263.31l2.15 3.2l-2.15 3.2l-2.15 -3.2z" fill="#ff0000"/>
</g>
<text x="168.9" y="44" font-size="12.3" fill="#000">ALICE, 13 TeV</text>
<rect x="73.65" y="59.25" width="5.7" height="5.7" fill="#000"/>
<text x="93.6" y="65" font-size="9.5" fill="#000">ALICE</text>
<line x1="64" y1="75.15" x2="88.8" y2="75.15" stroke="#b35c0a" stroke-width="1.1" stroke-dasharray="2.3,2.3"/>
<circle cx="76.5" cy="75.15" r="2.6" fill="none" stroke="#b35c0a" stroke-width="1.05"/>
<text x="93.6" y="78.05" font-size="9.5" fill="#000">Herwig++ 2.7.1 default</text>
<line x1="64" y1="88.2" x2="88.8" y2="88.2" stroke="#30960f" stroke-width="1.1" stroke-dasharray="2.3,2.3"/>
<rect x="73.9" y="85.6" width="5.2" height="5.2" fill="none" stroke="#30960f" stroke-width="1" shape-rendering="crispEdges"/>
<text x="93.6" y="91.1" font-size="9.5" fill="#000">Herwig 7.2.1 default</text>
<line x1="64" y1="101.25" x2="88.8" y2="101.25" stroke="#1010e8" stroke-width="1.1"/>
<path d="M76.5 98.25l3 5.7h-6z" fill="#1010e8"/>
<text x="93.6" y="104.15" font-size="9.5" fill="#000">Pythia 8.315 default</text>
<line x1="64" y1="114.3" x2="88.8" y2="114.3" stroke="#1c9fc4" stroke-width="1.1" stroke-dasharray="3.6,1.9,1.1,2.3"/>
<path d="M73.5 110.8h6l-3 5.9z" fill="#1c9fc4"/>
<text x="93.6" y="117.2" font-size="9.5" fill="#000">Pythia 8.315 vincia-default</text>
<line x1="64" y1="127.35" x2="88.8" y2="127.35" stroke="#ff0000" stroke-width="1.1" stroke-dasharray="1.6,1.1"/>
<path d="M76.5 124.15l2.15 3.2l-2.15 3.2l-2.15 -3.2z" fill="#ff0000"/>
<text x="93.6" y="130.25" font-size="9.5" fill="#000">Sherpa 2.2.9 default</text>
<rect x="45.5" y="17.5" width="325.9" height="300" fill="none" stroke="#000" stroke-width="1.2"/>
<rect x="0" y="317.8" width="393" height="194.2" fill="#fff"/>
<g fill="#ffff9c"><rect x="47.53" y="390.64" width="2.43" height="14.95"/><rect x="49.66" y="390.64" width="2.43" height="14.95"/><rect x="51.79" y="390.64" width="2.43" height="14.95"/><rect x="53.92" y="390.64" width="2.43" height="14.95"/><rect x="56.05" y="390.64" width="2.43" height="14.95"/><rect x="58.18" y="389.84" width="2.43" height="16.72"/><rect x="60.31" y="389.84" width="2.43" height="16.72"/><rect x="62.44" y="389.84" width="2.43" height="16.72"/><rect x="64.57" y="389.84" width="2.43" height="16.72"/><rect x="66.7" y="388.25" width="2.43" height="20.26"/><rect x="68.83" y="388.25" width="2.43" height="20.26"/><rect x="70.96" y="388.25" width="2.43" height="20.26"/><rect x="73.09" y="388.25" width="2.43" height="20.26"/><rect x="75.22" y="388.25" width="2.43" height="20.26"/><rect x="77.35" y="388.25" width="2.43" height="20.26"/><rect x="79.48" y="388.25" width="2.43" height="20.26"/><rect x="81.61" y="388.25" width="2.43" height="20.26"/><rect x="83.74" y="388.25" width="2.43" height="20.26"/><rect x="85.87" y="388.25" width="2.43" height="20.26"/><rect x="88" y="386.31" width="4.56" height="24.72"/><rect x="92.26" y="386.31" width="4.56" height="24.72"/><rect x="96.52" y="386.31" width="4.56" height="24.72"/><rect x="100.78" y="386.31" width="4.56" height="24.72"/><rect x="105.04" y="386.31" width="4.56" height="24.72"/><rect x="109.3" y="385.16" width="6.69" height="27.41"/><rect x="115.69" y="385.16" width="6.69" height="27.41"/><rect x="122.08" y="385.16" width="6.69" height="27.41"/><rect x="128.47" y="385.16" width="6.69" height="27.41"/><rect x="134.86" y="385.16" width="8.82" height="27.41"/><rect x="143.38" y="384.03" width="8.82" height="30.12"/><rect x="151.9" y="384.03" width="8.82" height="30.12"/><rect x="160.42" y="384.03" width="10.95" height="30.12"/><rect x="171.07" y="384.03" width="13.08" height="30.12"/><rect x="183.85" y="381.81" width="10.95" height="35.57"/><rect x="194.5" y="381.81" width="10.95" height="35.57"/><rect x="205.15" y="381.81" width="10.95" height="35.57"/><rect x="215.8" y="379.64" width="10.95" height="41.08"/><rect x="226.45" y="380.72" width="15.21" height="38.32"/><rect x="241.36" y="379.29" width="17.34" height="42.01"/><rect x="258.4" y="378.93" width="21.6" height="42.94"/><rect x="279.7" y="375.46" width="21.6" height="52.38"/><rect x="301" y="376.15" width="32.25" height="50.47"/><rect x="332.95" y="368.29" width="32.25" height="74.32"/></g>
<g fill="#98fb98"><rect x="47.53" y="393.52" width="2.43" height="8.78"/><rect x="49.66" y="393.52" width="2.43" height="8.78"/><rect x="51.79" y="393.52" width="2.43" height="8.78"/><rect x="53.92" y="393.52" width="2.43" height="8.78"/><rect x="56.05" y="393.52" width="2.43" height="8.78"/><rect x="58.18" y="392.69" width="2.43" height="10.54"/><rect x="60.31" y="392.69" width="2.43" height="10.54"/><rect x="62.44" y="392.69" width="2.43" height="10.54"/><rect x="64.57" y="392.69" width="2.43" height="10.54"/><rect x="66.7" y="391.87" width="2.43" height="12.3"/><rect x="68.83" y="391.87" width="2.43" height="12.3"/><rect x="70.96" y="391.87" width="2.43" height="12.3"/><rect x="73.09" y="391.87" width="2.43" height="12.3"/><rect x="75.22" y="391.87" width="2.43" height="12.3"/><rect x="77.35" y="391.87" width="2.43" height="12.3"/><rect x="79.48" y="391.87" width="2.43" height="12.3"/><rect x="81.61" y="391.87" width="2.43" height="12.3"/><rect x="83.74" y="391.87" width="2.43" height="12.3"/><rect x="85.87" y="391.87" width="2.43" height="12.3"/><rect x="88" y="391.05" width="4.56" height="14.06"/><rect x="92.26" y="391.05" width="4.56" height="14.06"/><rect x="96.52" y="391.05" width="4.56" height="14.06"/><rect x="100.78" y="391.05" width="4.56" height="14.06"/><rect x="105.04" y="391.05" width="4.56" height="14.06"/><rect x="109.3" y="391.05" width="6.69" height="14.06"/><rect x="115.69" y="391.05" width="6.69" height="14.06"/><rect x="122.08" y="391.05" width="6.69" height="14.06"/><rect x="128.47" y="391.05" width="6.69" height="14.06"/><rect x="134.86" y="391.05" width="8.82" height="14.06"/><rect x="143.38" y="390.24" width="8.82" height="15.83"/><rect x="151.9" y="390.24" width="8.82" height="15.83"/><rect x="160.42" y="390.24" width="10.95" height="15.83"/><rect x="171.07" y="390.24" width="13.08" height="15.83"/><rect x="183.85" y="389.44" width="10.95" height="17.6"/><rect x="194.5" y="389.44" width="10.95" height="17.6"/><rect x="205.15" y="389.44" width="10.95" height="17.6"/><rect x="215.8" y="388.65" width="10.95" height="19.38"/><rect x="226.45" y="389.44" width="15.21" height="17.6"/><rect x="241.36" y="388.65" width="17.34" height="19.38"/><rect x="258.4" y="387.86" width="21.6" height="21.15"/><rect x="279.7" y="385.92" width="21.6" height="25.62"/><rect x="301" y="386.31" width="32.25" height="24.72"/><rect x="332.95" y="381.81" width="32.25" height="35.57"/></g>
<line x1="45.4" y1="397.8" x2="371.4" y2="397.8" stroke="#333" stroke-width="1.1"/>
<path d="M45.4 317.5v5.5 M45.4 477.5v-5.5 M56.05 317.5v2 M56.05 477.5v-2 M66.7 317.5v3 M66.7 477.5v-3 M77.35 317.5v2 M77.35 477.5v-2 M88 317.5v3 M88 477.5v-3 M98.65 317.5v2 M98.65 477.5v-2 M109.3 317.5v3 M109.3 477.5v-3 M119.95 317.5v2 M119.95 477.5v-2 M130.6 317.5v3 M130.6 477.5v-3 M141.25 317.5v2 M141.25 477.5v-2 M151.9 317.5v5.5 M151.9 477.5v-5.5 M162.55 317.5v2 M162.55 477.5v-2 M173.2 317.5v3 M173.2 477.5v-3 M183.85 317.5v2 M183.85 477.5v-2 M194.5 317.5v3 M194.5 477.5v-3 M205.15 317.5v2 M205.15 477.5v-2 M215.8 317.5v3 M215.8 477.5v-3 M226.45 317.5v2 M226.45 477.5v-2 M237.1 317.5v3 M237.1 477.5v-3 M247.75 317.5v2 M247.75 477.5v-2 M258.4 317.5v5.5 M258.4 477.5v-5.5 M269.05 317.5v2 M269.05 477.5v-2 M279.7 317.5v3 M279.7 477.5v-3 M290.35 317.5v2 M290.35 477.5v-2 M301 317.5v3 M301 477.5v-3 M311.65 317.5v2 M311.65 477.5v-2 M322.3 317.5v3 M322.3 477.5v-3 M332.95 317.5v2 M332.95 477.5v-2 M343.6 317.5v3 M343.6 477.5v-3 M354.25 317.5v2 M354.25 477.5v-2 M364.9 317.5v5.5 M364.9 477.5v-5.5 M45.4 458.6h7.2 M371.4 458.6h-7.2 M45.4 397.8h7.2 M371.4 397.8h-7.2 M45.4 337h7.2 M371.4 337h-7.2 M45.4 442.61h5.2 M371.4 442.61h-5.2 M45.4 429.09h5.2 M371.4 429.09h-5.2 M45.4 417.37h5.2 M371.4 417.37h-5.2 M45.4 407.04h5.2 M371.4 407.04h-5.2 M45.4 389.44h5.2 M371.4 389.44h-5.2 M45.4 381.81h5.2 M371.4 381.81h-5.2 M45.4 374.79h5.2 M371.4 374.79h-5.2 M45.4 368.29h5.2 M371.4 368.29h-5.2 M45.4 362.23h5.2 M371.4 362.23h-5.2 M45.4 356.57h5.2 M371.4 356.57h-5.2 M45.4 351.26h5.2 M371.4 351.26h-5.2 M45.4 346.24h5.2 M371.4 346.24h-5.2 M45.4 341.5h5.2 M371.4 341.5h-5.2 M45.4 332.72h5.2 M371.4 332.72h-5.2 M45.4 328.64h5.2 M371.4 328.64h-5.2 M45.4 324.74h5.2 M371.4 324.74h-5.2 M45.4 321.01h5.2 M371.4 321.01h-5.2" stroke="#000" stroke-width="1.1" fill="none"/>
<g clip-path="url(#cl)">
<polyline points="48.59,331.48 50.73,351.26 52.85,367.66 54.98,381.08 57.12,392.69 59.24,401.38 61.38,410.52 63.51,418.92 65.63,429.09 67.77,439.73 69.89,448.66 72.03,457.38 74.16,463.1 76.28,472.44 78.41,478.17 80.54,478.17 82.67,479.28 84.81,480.39 86.94,481.53 90.13,484.84 94.39,485.6 98.65,489.08 102.91,488.03 107.17,485.22 112.5,491.38 118.88,490.48 125.28,487.97 131.66,489.68 138.69,484.31 147.64,487.45 156.16,477.91 165.75,482.95 177.46,471.08 188.75,471.33 199.61,463.81 210.48,481.33 221.12,470.74 233.91,481.65 249.88,457.52 269.05,468.61 289.71,498.52 316.76,495.88 348.71,379.89" fill="none" stroke="#b35c0a" stroke-width="1.1" stroke-dasharray="2.3,2.3"/>
<line x1="112.5" y1="488.36" x2="112.5" y2="494.51" stroke="#b35c0a" stroke-width="1.3" stroke-dasharray="2.3,2.3"/>
<line x1="118.88" y1="487.46" x2="118.88" y2="493.6" stroke="#b35c0a" stroke-width="1.3" stroke-dasharray="2.3,2.3"/>
<line x1="125.28" y1="484.95" x2="125.28" y2="491.09" stroke="#b35c0a" stroke-width="1.3" stroke-dasharray="2.3,2.3"/>
<line x1="131.66" y1="486.67" x2="131.66" y2="492.81" stroke="#b35c0a" stroke-width="1.3" stroke-dasharray="2.3,2.3"/>
<line x1="138.69" y1="481.29" x2="138.69" y2="487.43" stroke="#b35c0a" stroke-width="1.3" stroke-dasharray="2.3,2.3"/>
<line x1="147.64" y1="482.34" x2="147.64" y2="492.88" stroke="#b35c0a" stroke-width="1.3" stroke-dasharray="2.3,2.3"/>
<line x1="156.16" y1="472.8" x2="156.16" y2="483.34" stroke="#b35c0a" stroke-width="1.3" stroke-dasharray="2.3,2.3"/>
<line x1="165.75" y1="477.84" x2="165.75" y2="488.38" stroke="#b35c0a" stroke-width="1.3" stroke-dasharray="2.3,2.3"/>
<line x1="177.46" y1="461.37" x2="177.46" y2="481.99" stroke="#b35c0a" stroke-width="1.3" stroke-dasharray="2.3,2.3"/>
<line x1="188.75" y1="461.63" x2="188.75" y2="482.25" stroke="#b35c0a" stroke-width="1.3" stroke-dasharray="2.3,2.3"/>
<line x1="199.61" y1="454.11" x2="199.61" y2="474.73" stroke="#b35c0a" stroke-width="1.3" stroke-dasharray="2.3,2.3"/>
<line x1="210.48" y1="471.62" x2="210.48" y2="492.24" stroke="#b35c0a" stroke-width="1.3" stroke-dasharray="2.3,2.3"/>
<line x1="221.12" y1="459.02" x2="221.12" y2="484.28" stroke="#b35c0a" stroke-width="1.3" stroke-dasharray="2.3,2.3"/>
<line x1="233.91" y1="469.92" x2="233.91" y2="495.18" stroke="#b35c0a" stroke-width="1.3" stroke-dasharray="2.3,2.3"/>
<line x1="249.88" y1="443.82" x2="249.88" y2="473.76" stroke="#b35c0a" stroke-width="1.3" stroke-dasharray="2.3,2.3"/>
<line x1="269.05" y1="452.99" x2="269.05" y2="487.64" stroke="#b35c0a" stroke-width="1.3" stroke-dasharray="2.3,2.3"/>
<line x1="289.71" y1="469.01" x2="289.71" y2="543.33" stroke="#b35c0a" stroke-width="1.3" stroke-dasharray="2.3,2.3"/>
<line x1="316.76" y1="473.81" x2="316.76" y2="525.43" stroke="#b35c0a" stroke-width="1.3" stroke-dasharray="2.3,2.3"/>
<line x1="348.71" y1="352.67" x2="348.71" y2="419.59" stroke="#b35c0a" stroke-width="1.3" stroke-dasharray="2.3,2.3"/>
<circle cx="48.59" cy="331.48" r="2.6" fill="none" stroke="#b35c0a" stroke-width="1.05"/>
<circle cx="50.73" cy="351.26" r="2.6" fill="none" stroke="#b35c0a" stroke-width="1.05"/>
<circle cx="52.85" cy="367.66" r="2.6" fill="none" stroke="#b35c0a" stroke-width="1.05"/>
<circle cx="54.98" cy="381.08" r="2.6" fill="none" stroke="#b35c0a" stroke-width="1.05"/>
<circle cx="57.12" cy="392.69" r="2.6" fill="none" stroke="#b35c0a" stroke-width="1.05"/>
<circle cx="59.24" cy="401.38" r="2.6" fill="none" stroke="#b35c0a" stroke-width="1.05"/>
<circle cx="61.38" cy="410.52" r="2.6" fill="none" stroke="#b35c0a" stroke-width="1.05"/>
<circle cx="63.51" cy="418.92" r="2.6" fill="none" stroke="#b35c0a" stroke-width="1.05"/>
<circle cx="65.63" cy="429.09" r="2.6" fill="none" stroke="#b35c0a" stroke-width="1.05"/>
<circle cx="67.77" cy="439.73" r="2.6" fill="none" stroke="#b35c0a" stroke-width="1.05"/>
<circle cx="69.89" cy="448.66" r="2.6" fill="none" stroke="#b35c0a" stroke-width="1.05"/>
<circle cx="72.03" cy="457.38" r="2.6" fill="none" stroke="#b35c0a" stroke-width="1.05"/>
<circle cx="74.16" cy="463.1" r="2.6" fill="none" stroke="#b35c0a" stroke-width="1.05"/>
<circle cx="76.28" cy="472.44" r="2.6" fill="none" stroke="#b35c0a" stroke-width="1.05"/>
<circle cx="78.41" cy="478.17" r="2.6" fill="none" stroke="#b35c0a" stroke-width="1.05"/>
<circle cx="80.54" cy="478.17" r="2.6" fill="none" stroke="#b35c0a" stroke-width="1.05"/>
<circle cx="82.67" cy="479.28" r="2.6" fill="none" stroke="#b35c0a" stroke-width="1.05"/>
<circle cx="84.81" cy="480.39" r="2.6" fill="none" stroke="#b35c0a" stroke-width="1.05"/>
<circle cx="86.94" cy="481.53" r="2.6" fill="none" stroke="#b35c0a" stroke-width="1.05"/>
<circle cx="90.13" cy="484.84" r="2.6" fill="none" stroke="#b35c0a" stroke-width="1.05"/>
<circle cx="94.39" cy="485.6" r="2.6" fill="none" stroke="#b35c0a" stroke-width="1.05"/>
<circle cx="98.65" cy="489.08" r="2.6" fill="none" stroke="#b35c0a" stroke-width="1.05"/>
<circle cx="102.91" cy="488.03" r="2.6" fill="none" stroke="#b35c0a" stroke-width="1.05"/>
<circle cx="107.17" cy="485.22" r="2.6" fill="none" stroke="#b35c0a" stroke-width="1.05"/>
<circle cx="112.5" cy="491.38" r="2.6" fill="none" stroke="#b35c0a" stroke-width="1.05"/>
<circle cx="118.88" cy="490.48" r="2.6" fill="none" stroke="#b35c0a" stroke-width="1.05"/>
<circle cx="125.28" cy="487.97" r="2.6" fill="none" stroke="#b35c0a" stroke-width="1.05"/>
<circle cx="131.66" cy="489.68" r="2.6" fill="none" stroke="#b35c0a" stroke-width="1.05"/>
<circle cx="138.69" cy="484.31" r="2.6" fill="none" stroke="#b35c0a" stroke-width="1.05"/>
<circle cx="147.64" cy="487.45" r="2.6" fill="none" stroke="#b35c0a" stroke-width="1.05"/>
<circle cx="156.16" cy="477.91" r="2.6" fill="none" stroke="#b35c0a" stroke-width="1.05"/>
<circle cx="165.75" cy="482.95" r="2.6" fill="none" stroke="#b35c0a" stroke-width="1.05"/>
<circle cx="177.46" cy="471.08" r="2.6" fill="none" stroke="#b35c0a" stroke-width="1.05"/>
<circle cx="188.75" cy="471.33" r="2.6" fill="none" stroke="#b35c0a" stroke-width="1.05"/>
<circle cx="199.61" cy="463.81" r="2.6" fill="none" stroke="#b35c0a" stroke-width="1.05"/>
<circle cx="210.48" cy="481.33" r="2.6" fill="none" stroke="#b35c0a" stroke-width="1.05"/>
<circle cx="221.12" cy="470.74" r="2.6" fill="none" stroke="#b35c0a" stroke-width="1.05"/>
<circle cx="233.91" cy="481.65" r="2.6" fill="none" stroke="#b35c0a" stroke-width="1.05"/>
<circle cx="249.88" cy="457.52" r="2.6" fill="none" stroke="#b35c0a" stroke-width="1.05"/>
<circle cx="269.05" cy="468.61" r="2.6" fill="none" stroke="#b35c0a" stroke-width="1.05"/>
<circle cx="289.71" cy="498.52" r="2.6" fill="none" stroke="#b35c0a" stroke-width="1.05"/>
<circle cx="316.76" cy="495.88" r="2.6" fill="none" stroke="#b35c0a" stroke-width="1.05"/>
<circle cx="348.71" cy="379.89" r="2.6" fill="none" stroke="#b35c0a" stroke-width="1.05"/>
<polyline points="48.59,358.23 50.73,377.53 52.85,387.86 54.98,395.21 57.12,401.38 59.24,402.3 61.38,402.3 63.51,402.3 65.63,401.84 67.77,401.84 69.89,402.3 72.03,402.76 74.16,403.23 76.28,403.7 78.41,404.17 80.54,405.11 82.67,406.07 84.81,407.04 86.94,408.02 90.13,409.21 94.39,410.14 98.65,412.67 102.91,413.87 107.17,412.74 112.5,415.05 118.88,415.23 125.28,416.55 131.66,419.79 138.69,419.57 147.64,425.21 156.16,417.11 165.75,419.35 177.46,425.05 188.75,421.14 199.61,428.13 210.48,431.48 221.12,450.33 233.91,437.71 249.88,451.3 269.05,456.23 289.71,435.72 316.76,428.22 348.71,362.5" fill="none" stroke="#30960f" stroke-width="1.1" stroke-dasharray="2.3,2.3"/>
<line x1="112.5" y1="412.03" x2="112.5" y2="418.17" stroke="#30960f" stroke-width="1.3" stroke-dasharray="2.3,1.8"/>
<line x1="118.88" y1="412.22" x2="118.88" y2="418.36" stroke="#30960f" stroke-width="1.3" stroke-dasharray="2.3,1.8"/>
<line x1="125.28" y1="413.53" x2="125.28" y2="419.68" stroke="#30960f" stroke-width="1.3" stroke-dasharray="2.3,1.8"/>
<line x1="131.66" y1="416.78" x2="131.66" y2="422.92" stroke="#30960f" stroke-width="1.3" stroke-dasharray="2.3,1.8"/>
<line x1="138.69" y1="416.55" x2="138.69" y2="422.69" stroke="#30960f" stroke-width="1.3" stroke-dasharray="2.3,1.8"/>
<line x1="147.64" y1="420.1" x2="147.64" y2="430.64" stroke="#30960f" stroke-width="1.3" stroke-dasharray="2.3,1.8"/>
<line x1="156.16" y1="412" x2="156.16" y2="422.54" stroke="#30960f" stroke-width="1.3" stroke-dasharray="2.3,1.8"/>
<line x1="165.75" y1="414.24" x2="165.75" y2="424.77" stroke="#30960f" stroke-width="1.3" stroke-dasharray="2.3,1.8"/>
<line x1="177.46" y1="417.49" x2="177.46" y2="433.32" stroke="#30960f" stroke-width="1.3" stroke-dasharray="2.3,1.8"/>
<line x1="188.75" y1="413.58" x2="188.75" y2="429.41" stroke="#30960f" stroke-width="1.3" stroke-dasharray="2.3,1.8"/>
<line x1="199.61" y1="420.57" x2="199.61" y2="436.4" stroke="#30960f" stroke-width="1.3" stroke-dasharray="2.3,1.8"/>
<line x1="210.48" y1="423.92" x2="210.48" y2="439.75" stroke="#30960f" stroke-width="1.3" stroke-dasharray="2.3,1.8"/>
<line x1="221.12" y1="441.18" x2="221.12" y2="460.55" stroke="#30960f" stroke-width="1.3" stroke-dasharray="2.3,1.8"/>
<line x1="233.91" y1="428.55" x2="233.91" y2="447.93" stroke="#30960f" stroke-width="1.3" stroke-dasharray="2.3,1.8"/>
<line x1="249.88" y1="440.58" x2="249.88" y2="463.52" stroke="#30960f" stroke-width="1.3" stroke-dasharray="2.3,1.8"/>
<line x1="269.05" y1="443.97" x2="269.05" y2="470.49" stroke="#30960f" stroke-width="1.3" stroke-dasharray="2.3,1.8"/>
<line x1="289.71" y1="421.2" x2="289.71" y2="453.12" stroke="#30960f" stroke-width="1.3" stroke-dasharray="2.3,1.8"/>
<line x1="316.76" y1="410.78" x2="316.76" y2="450.02" stroke="#30960f" stroke-width="1.3" stroke-dasharray="2.3,1.8"/>
<line x1="348.71" y1="340.84" x2="348.71" y2="391.31" stroke="#30960f" stroke-width="1.3" stroke-dasharray="2.3,1.8"/>
<rect x="45.99" y="355.63" width="5.2" height="5.2" fill="none" stroke="#30960f" stroke-width="1" shape-rendering="crispEdges"/>
<rect x="48.12" y="374.93" width="5.2" height="5.2" fill="none" stroke="#30960f" stroke-width="1" shape-rendering="crispEdges"/>
<rect x="50.25" y="385.26" width="5.2" height="5.2" fill="none" stroke="#30960f" stroke-width="1" shape-rendering="crispEdges"/>
<rect x="52.38" y="392.61" width="5.2" height="5.2" fill="none" stroke="#30960f" stroke-width="1" shape-rendering="crispEdges"/>
<rect x="54.52" y="398.78" width="5.2" height="5.2" fill="none" stroke="#30960f" stroke-width="1" shape-rendering="crispEdges"/>
<rect x="56.64" y="399.7" width="5.2" height="5.2" fill="none" stroke="#30960f" stroke-width="1" shape-rendering="crispEdges"/>
<rect x="58.77" y="399.7" width="5.2" height="5.2" fill="none" stroke="#30960f" stroke-width="1" shape-rendering="crispEdges"/>
<rect x="60.91" y="399.7" width="5.2" height="5.2" fill="none" stroke="#30960f" stroke-width="1" shape-rendering="crispEdges"/>
<rect x="63.03" y="399.24" width="5.2" height="5.2" fill="none" stroke="#30960f" stroke-width="1" shape-rendering="crispEdges"/>
<rect x="65.17" y="399.24" width="5.2" height="5.2" fill="none" stroke="#30960f" stroke-width="1" shape-rendering="crispEdges"/>
<rect x="67.3" y="399.7" width="5.2" height="5.2" fill="none" stroke="#30960f" stroke-width="1" shape-rendering="crispEdges"/>
<rect x="69.43" y="400.16" width="5.2" height="5.2" fill="none" stroke="#30960f" stroke-width="1" shape-rendering="crispEdges"/>
<rect x="71.56" y="400.63" width="5.2" height="5.2" fill="none" stroke="#30960f" stroke-width="1" shape-rendering="crispEdges"/>
<rect x="73.69" y="401.1" width="5.2" height="5.2" fill="none" stroke="#30960f" stroke-width="1" shape-rendering="crispEdges"/>
<rect x="75.81" y="401.57" width="5.2" height="5.2" fill="none" stroke="#30960f" stroke-width="1" shape-rendering="crispEdges"/>
<rect x="77.94" y="402.51" width="5.2" height="5.2" fill="none" stroke="#30960f" stroke-width="1" shape-rendering="crispEdges"/>
<rect x="80.08" y="403.47" width="5.2" height="5.2" fill="none" stroke="#30960f" stroke-width="1" shape-rendering="crispEdges"/>
<rect x="82.21" y="404.44" width="5.2" height="5.2" fill="none" stroke="#30960f" stroke-width="1" shape-rendering="crispEdges"/>
<rect x="84.34" y="405.42" width="5.2" height="5.2" fill="none" stroke="#30960f" stroke-width="1" shape-rendering="crispEdges"/>
<rect x="87.53" y="406.61" width="5.2" height="5.2" fill="none" stroke="#30960f" stroke-width="1" shape-rendering="crispEdges"/>
<rect x="91.79" y="407.54" width="5.2" height="5.2" fill="none" stroke="#30960f" stroke-width="1" shape-rendering="crispEdges"/>
<rect x="96.05" y="410.07" width="5.2" height="5.2" fill="none" stroke="#30960f" stroke-width="1" shape-rendering="crispEdges"/>
<rect x="100.31" y="411.27" width="5.2" height="5.2" fill="none" stroke="#30960f" stroke-width="1" shape-rendering="crispEdges"/>
<rect x="104.57" y="410.14" width="5.2" height="5.2" fill="none" stroke="#30960f" stroke-width="1" shape-rendering="crispEdges"/>
<rect x="109.9" y="412.45" width="5.2" height="5.2" fill="none" stroke="#30960f" stroke-width="1" shape-rendering="crispEdges"/>
<rect x="116.28" y="412.63" width="5.2" height="5.2" fill="none" stroke="#30960f" stroke-width="1" shape-rendering="crispEdges"/>
<rect x="122.68" y="413.95" width="5.2" height="5.2" fill="none" stroke="#30960f" stroke-width="1" shape-rendering="crispEdges"/>
<rect x="129.06" y="417.19" width="5.2" height="5.2" fill="none" stroke="#30960f" stroke-width="1" shape-rendering="crispEdges"/>
<rect x="136.09" y="416.97" width="5.2" height="5.2" fill="none" stroke="#30960f" stroke-width="1" shape-rendering="crispEdges"/>
<rect x="145.04" y="422.61" width="5.2" height="5.2" fill="none" stroke="#30960f" stroke-width="1" shape-rendering="crispEdges"/>
<rect x="153.56" y="414.51" width="5.2" height="5.2" fill="none" stroke="#30960f" stroke-width="1" shape-rendering="crispEdges"/>
<rect x="163.15" y="416.75" width="5.2" height="5.2" fill="none" stroke="#30960f" stroke-width="1" shape-rendering="crispEdges"/>
<rect x="174.86" y="422.45" width="5.2" height="5.2" fill="none" stroke="#30960f" stroke-width="1" shape-rendering="crispEdges"/>
<rect x="186.15" y="418.54" width="5.2" height="5.2" fill="none" stroke="#30960f" stroke-width="1" shape-rendering="crispEdges"/>
<rect x="197.01" y="425.53" width="5.2" height="5.2" fill="none" stroke="#30960f" stroke-width="1" shape-rendering="crispEdges"/>
<rect x="207.88" y="428.88" width="5.2" height="5.2" fill="none" stroke="#30960f" stroke-width="1" shape-rendering="crispEdges"/>
<rect x="218.53" y="447.73" width="5.2" height="5.2" fill="none" stroke="#30960f" stroke-width="1" shape-rendering="crispEdges"/>
<rect x="231.31" y="435.11" width="5.2" height="5.2" fill="none" stroke="#30960f" stroke-width="1" shape-rendering="crispEdges"/>
<rect x="247.28" y="448.7" width="5.2" height="5.2" fill="none" stroke="#30960f" stroke-width="1" shape-rendering="crispEdges"/>
<rect x="266.45" y="453.63" width="5.2" height="5.2" fill="none" stroke="#30960f" stroke-width="1" shape-rendering="crispEdges"/>
<rect x="287.11" y="433.12" width="5.2" height="5.2" fill="none" stroke="#30960f" stroke-width="1" shape-rendering="crispEdges"/>
<rect x="314.16" y="425.62" width="5.2" height="5.2" fill="none" stroke="#30960f" stroke-width="1" shape-rendering="crispEdges"/>
<rect x="346.11" y="359.9" width="5.2" height="5.2" fill="none" stroke="#30960f" stroke-width="1" shape-rendering="crispEdges"/>
<polyline points="48.59,364.61 50.73,384.03 52.85,393.52 54.98,401.38 57.12,410.02 59.24,417.37 61.38,421.87 63.51,423.62 65.63,424.81 67.77,426.01 69.89,426.62 72.03,426.62 74.16,426.62 76.28,427.23 78.41,427.84 80.54,427.84 82.67,428.46 84.81,429.09 86.94,429.09 90.13,429.7 94.39,427.69 98.65,428.57 102.91,428.63 107.17,428.5 112.5,427.09 118.88,426.23 125.28,426.15 131.66,425.91 138.69,423.51 147.64,421.71 156.16,421.32 165.75,428.05 177.46,416.42 188.75,427.08 199.61,415.91 210.48,415.72 221.12,417.54 233.91,417.87 249.88,421.95 269.05,427.23 289.71,441.24 316.76,449.87 348.71,391.91" fill="none" stroke="#1010e8" stroke-width="1.4"/>
<line x1="112.5" y1="424.07" x2="112.5" y2="430.21" stroke="#1010e8" stroke-width="1.3"/>
<line x1="118.88" y1="423.21" x2="118.88" y2="429.35" stroke="#1010e8" stroke-width="1.3"/>
<line x1="125.28" y1="423.13" x2="125.28" y2="429.27" stroke="#1010e8" stroke-width="1.3"/>
<line x1="131.66" y1="422.89" x2="131.66" y2="429.04" stroke="#1010e8" stroke-width="1.3"/>
<line x1="138.69" y1="420.49" x2="138.69" y2="426.63" stroke="#1010e8" stroke-width="1.3"/>
<line x1="147.64" y1="416.6" x2="147.64" y2="427.13" stroke="#1010e8" stroke-width="1.3"/>
<line x1="156.16" y1="416.21" x2="156.16" y2="426.75" stroke="#1010e8" stroke-width="1.3"/>
<line x1="165.75" y1="422.94" x2="165.75" y2="433.48" stroke="#1010e8" stroke-width="1.3"/>
<line x1="177.46" y1="408.86" x2="177.46" y2="424.7" stroke="#1010e8" stroke-width="1.3"/>
<line x1="188.75" y1="419.52" x2="188.75" y2="435.35" stroke="#1010e8" stroke-width="1.3"/>
<line x1="199.61" y1="408.35" x2="199.61" y2="424.18" stroke="#1010e8" stroke-width="1.3"/>
<line x1="210.48" y1="408.16" x2="210.48" y2="423.99" stroke="#1010e8" stroke-width="1.3"/>
<line x1="221.12" y1="408.39" x2="221.12" y2="427.76" stroke="#1010e8" stroke-width="1.3"/>
<line x1="233.91" y1="408.72" x2="233.91" y2="428.09" stroke="#1010e8" stroke-width="1.3"/>
<line x1="249.88" y1="411.23" x2="249.88" y2="434.17" stroke="#1010e8" stroke-width="1.3"/>
<line x1="269.05" y1="414.97" x2="269.05" y2="441.48" stroke="#1010e8" stroke-width="1.3"/>
<line x1="289.71" y1="426.73" x2="289.71" y2="458.65" stroke="#1010e8" stroke-width="1.3"/>
<line x1="316.76" y1="432.43" x2="316.76" y2="471.66" stroke="#1010e8" stroke-width="1.3"/>
<line x1="348.71" y1="370.25" x2="348.71" y2="420.72" stroke="#1010e8" stroke-width="1.3"/>
<path d="M48.59 361.61l3 5.7h-6z" fill="#1010e8"/>
<path d="M50.73 381.03l3 5.7h-6z" fill="#1010e8"/>
<path d="M52.85 390.52l3 5.7h-6z" fill="#1010e8"/>
<path d="M54.98 398.38l3 5.7h-6z" fill="#1010e8"/>
<path d="M57.12 407.02l3 5.7h-6z" fill="#1010e8"/>
<path d="M59.24 414.37l3 5.7h-6z" fill="#1010e8"/>
<path d="M61.38 418.87l3 5.7h-6z" fill="#1010e8"/>
<path d="M63.51 420.62l3 5.7h-6z" fill="#1010e8"/>
<path d="M65.63 421.81l3 5.7h-6z" fill="#1010e8"/>
<path d="M67.77 423.01l3 5.7h-6z" fill="#1010e8"/>
<path d="M69.89 423.62l3 5.7h-6z" fill="#1010e8"/>
<path d="M72.03 423.62l3 5.7h-6z" fill="#1010e8"/>
<path d="M74.16 423.62l3 5.7h-6z" fill="#1010e8"/>
<path d="M76.28 424.23l3 5.7h-6z" fill="#1010e8"/>
<path d="M78.41 424.84l3 5.7h-6z" fill="#1010e8"/>
<path d="M80.54 424.84l3 5.7h-6z" fill="#1010e8"/>
<path d="M82.67 425.46l3 5.7h-6z" fill="#1010e8"/>
<path d="M84.81 426.09l3 5.7h-6z" fill="#1010e8"/>
<path d="M86.94 426.09l3 5.7h-6z" fill="#1010e8"/>
<path d="M90.13 426.7l3 5.7h-6z" fill="#1010e8"/>
<path d="M94.39 424.69l3 5.7h-6z" fill="#1010e8"/>
<path d="M98.65 425.57l3 5.7h-6z" fill="#1010e8"/>
<path d="M102.91 425.63l3 5.7h-6z" fill="#1010e8"/>
<path d="M107.17 425.5l3 5.7h-6z" fill="#1010e8"/>
<path d="M112.5 424.09l3 5.7h-6z" fill="#1010e8"/>
<path d="M118.88 423.23l3 5.7h-6z" fill="#1010e8"/>
<path d="M125.28 423.15l3 5.7h-6z" fill="#1010e8"/>
<path d="M131.66 422.91l3 5.7h-6z" fill="#1010e8"/>
<path d="M138.69 420.51l3 5.7h-6z" fill="#1010e8"/>
<path d="M147.64 418.71l3 5.7h-6z" fill="#1010e8"/>
<path d="M156.16 418.32l3 5.7h-6z" fill="#1010e8"/>
<path d="M165.75 425.05l3 5.7h-6z" fill="#1010e8"/>
<path d="M177.46 413.42l3 5.7h-6z" fill="#1010e8"/>
<path d="M188.75 424.08l3 5.7h-6z" fill="#1010e8"/>
<path d="M199.61 412.91l3 5.7h-6z" fill="#1010e8"/>
<path d="M210.48 412.72l3 5.7h-6z" fill="#1010e8"/>
<path d="M221.12 414.54l3 5.7h-6z" fill="#1010e8"/>
<path d="M233.91 414.87l3 5.7h-6z" fill="#1010e8"/>
<path d="M249.88 418.95l3 5.7h-6z" fill="#1010e8"/>
<path d="M269.05 424.23l3 5.7h-6z" fill="#1010e8"/>
<path d="M289.71 438.24l3 5.7h-6z" fill="#1010e8"/>
<path d="M316.76 446.87l3 5.7h-6z" fill="#1010e8"/>
<path d="M348.71 388.91l3 5.7h-6z" fill="#1010e8"/>
<polyline points="48.59,359.93 50.73,378.93 52.85,393.52 54.98,404.17 57.12,412.06 59.24,419.59 61.38,424.21 63.51,426.62 65.63,429.09 67.77,430.35 69.89,432.93 72.03,434.25 74.16,436.26 76.28,436.95 78.41,436.95 80.54,437.63 82.67,438.33 84.81,438.33 86.94,438.33 90.13,440.49 94.39,439.66 98.65,441.14 102.91,441.03 107.17,439.46 112.5,441.36 118.88,439.71 125.28,441.94 131.66,446.4 138.69,436.79 147.64,435.84 156.16,437.72 165.75,433.37 177.46,434.37 188.75,438.42 199.61,438.76 210.48,441.35 221.12,426.55 233.91,429.47 249.88,438.32 269.05,431.48 289.71,430.14 316.76,416.81 348.71,380.86" fill="none" stroke="#1c9fc4" stroke-width="1.1" stroke-dasharray="3.6,1.9,1.1,2.3"/>
<line x1="112.5" y1="438.34" x2="112.5" y2="444.48" stroke="#1c9fc4" stroke-width="1.3" stroke-dasharray="3.6,1.9,1.1,2.3"/>
<line x1="118.88" y1="436.69" x2="118.88" y2="442.83" stroke="#1c9fc4" stroke-width="1.3" stroke-dasharray="3.6,1.9,1.1,2.3"/>
<line x1="125.28" y1="438.92" x2="125.28" y2="445.06" stroke="#1c9fc4" stroke-width="1.3" stroke-dasharray="3.6,1.9,1.1,2.3"/>
<line x1="131.66" y1="443.38" x2="131.66" y2="449.53" stroke="#1c9fc4" stroke-width="1.3" stroke-dasharray="3.6,1.9,1.1,2.3"/>
<line x1="138.69" y1="433.77" x2="138.69" y2="439.92" stroke="#1c9fc4" stroke-width="1.3" stroke-dasharray="3.6,1.9,1.1,2.3"/>
<line x1="147.64" y1="430.73" x2="147.64" y2="441.27" stroke="#1c9fc4" stroke-width="1.3" stroke-dasharray="3.6,1.9,1.1,2.3"/>
<line x1="156.16" y1="432.61" x2="156.16" y2="443.15" stroke="#1c9fc4" stroke-width="1.3" stroke-dasharray="3.6,1.9,1.1,2.3"/>
<line x1="165.75" y1="428.25" x2="165.75" y2="438.79" stroke="#1c9fc4" stroke-width="1.3" stroke-dasharray="3.6,1.9,1.1,2.3"/>
<line x1="177.46" y1="426.81" x2="177.46" y2="442.64" stroke="#1c9fc4" stroke-width="1.3" stroke-dasharray="3.6,1.9,1.1,2.3"/>
<line x1="188.75" y1="430.86" x2="188.75" y2="446.69" stroke="#1c9fc4" stroke-width="1.3" stroke-dasharray="3.6,1.9,1.1,2.3"/>
<line x1="199.61" y1="431.2" x2="199.61" y2="447.03" stroke="#1c9fc4" stroke-width="1.3" stroke-dasharray="3.6,1.9,1.1,2.3"/>
<line x1="210.48" y1="433.79" x2="210.48" y2="449.62" stroke="#1c9fc4" stroke-width="1.3" stroke-dasharray="3.6,1.9,1.1,2.3"/>
<line x1="221.12" y1="417.4" x2="221.12" y2="436.77" stroke="#1c9fc4" stroke-width="1.3" stroke-dasharray="3.6,1.9,1.1,2.3"/>
<line x1="233.91" y1="420.31" x2="233.91" y2="439.69" stroke="#1c9fc4" stroke-width="1.3" stroke-dasharray="3.6,1.9,1.1,2.3"/>
<line x1="249.88" y1="427.6" x2="249.88" y2="450.53" stroke="#1c9fc4" stroke-width="1.3" stroke-dasharray="3.6,1.9,1.1,2.3"/>
<line x1="269.05" y1="419.22" x2="269.05" y2="445.73" stroke="#1c9fc4" stroke-width="1.3" stroke-dasharray="3.6,1.9,1.1,2.3"/>
<line x1="289.71" y1="415.62" x2="289.71" y2="447.55" stroke="#1c9fc4" stroke-width="1.3" stroke-dasharray="3.6,1.9,1.1,2.3"/>
<line x1="316.76" y1="399.37" x2="316.76" y2="438.6" stroke="#1c9fc4" stroke-width="1.3" stroke-dasharray="3.6,1.9,1.1,2.3"/>
<line x1="348.71" y1="359.21" x2="348.71" y2="409.68" stroke="#1c9fc4" stroke-width="1.3" stroke-dasharray="3.6,1.9,1.1,2.3"/>
<path d="M45.59 356.43h6l-3 5.9z" fill="#1c9fc4"/>
<path d="M47.73 375.43h6l-3 5.9z" fill="#1c9fc4"/>
<path d="M49.85 390.02h6l-3 5.9z" fill="#1c9fc4"/>
<path d="M51.98 400.67h6l-3 5.9z" fill="#1c9fc4"/>
<path d="M54.12 408.56h6l-3 5.9z" fill="#1c9fc4"/>
<path d="M56.24 416.09h6l-3 5.9z" fill="#1c9fc4"/>
<path d="M58.38 420.71h6l-3 5.9z" fill="#1c9fc4"/>
<path d="M60.51 423.12h6l-3 5.9z" fill="#1c9fc4"/>
<path d="M62.63 425.59h6l-3 5.9z" fill="#1c9fc4"/>
<path d="M64.77 426.85h6l-3 5.9z" fill="#1c9fc4"/>
<path d="M66.89 429.43h6l-3 5.9z" fill="#1c9fc4"/>
<path d="M69.03 430.75h6l-3 5.9z" fill="#1c9fc4"/>
<path d="M71.16 432.76h6l-3 5.9z" fill="#1c9fc4"/>
<path d="M73.28 433.45h6l-3 5.9z" fill="#1c9fc4"/>
<path d="M75.41 433.45h6l-3 5.9z" fill="#1c9fc4"/>
<path d="M77.54 434.13h6l-3 5.9z" fill="#1c9fc4"/>
<path d="M79.67 434.83h6l-3 5.9z" fill="#1c9fc4"/>
<path d="M81.81 434.83h6l-3 5.9z" fill="#1c9fc4"/>
<path d="M83.94 434.83h6l-3 5.9z" fill="#1c9fc4"/>
<path d="M87.13 436.99h6l-3 5.9z" fill="#1c9fc4"/>
<path d="M91.39 436.16h6l-3 5.9z" fill="#1c9fc4"/>
<path d="M95.65 437.64h6l-3 5.9z" fill="#1c9fc4"/>
<path d="M99.91 437.53h6l-3 5.9z" fill="#1c9fc4"/>
<path d="M104.17 435.96h6l-3 5.9z" fill="#1c9fc4"/>
<path d="M109.5 437.86h6l-3 5.9z" fill="#1c9fc4"/>
<path d="M115.88 436.21h6l-3 5.9z" fill="#1c9fc4"/>
<path d="M122.28 438.44h6l-3 5.9z" fill="#1c9fc4"/>
<path d="M128.66 442.9h6l-3 5.9z" fill="#1c9fc4"/>
<path d="M135.69 433.29h6l-3 5.9z" fill="#1c9fc4"/>
<path d="M144.64 432.34h6l-3 5.9z" fill="#1c9fc4"/>
<path d="M153.16 434.22h6l-3 5.9z" fill="#1c9fc4"/>
<path d="M162.75 429.87h6l-3 5.9z" fill="#1c9fc4"/>
<path d="M174.46 430.87h6l-3 5.9z" fill="#1c9fc4"/>
<path d="M185.75 434.92h6l-3 5.9z" fill="#1c9fc4"/>
<path d="M196.61 435.26h6l-3 5.9z" fill="#1c9fc4"/>
<path d="M207.48 437.85h6l-3 5.9z" fill="#1c9fc4"/>
<path d="M218.12 423.05h6l-3 5.9z" fill="#1c9fc4"/>
<path d="M230.91 425.97h6l-3 5.9z" fill="#1c9fc4"/>
<path d="M246.88 434.82h6l-3 5.9z" fill="#1c9fc4"/>
<path d="M266.05 427.98h6l-3 5.9z" fill="#1c9fc4"/>
<path d="M286.71 426.64h6l-3 5.9z" fill="#1c9fc4"/>
<path d="M313.76 413.31h6l-3 5.9z" fill="#1c9fc4"/>
<path d="M345.71 377.36h6l-3 5.9z" fill="#1c9fc4"/>
<polyline points="48.59,392.19 50.73,405.88 52.85,414.36 54.98,423.39 57.12,429.09 59.24,431.63 61.38,432.93 63.51,432.93 65.63,432.93 67.77,432.93 69.89,432.93 72.03,432.93 74.16,432.93 76.28,432.93 78.41,433.59 80.54,433.59 82.67,433.59 84.81,433.59 86.94,433.59 90.13,432.51 94.39,433.16 98.65,435.09 102.91,431.21 107.17,436.06 112.5,433.08 118.88,428.34 125.28,433 131.66,427.14 138.69,421.86 147.64,424.5 156.16,418.2 165.75,424.15 177.46,419.35 188.75,416.61 199.61,414.47 210.48,420.53 221.12,409.94 233.91,407.45 249.88,404.91 269.05,416.29 289.71,448.28 316.76,457.34 348.71,434.06" fill="none" stroke="#ff0000" stroke-width="1.0" stroke-dasharray="1.6,1.1"/>
<line x1="112.5" y1="430.07" x2="112.5" y2="436.21" stroke="#ff0000" stroke-width="1.3" stroke-dasharray="1.3,1.3"/>
<line x1="118.88" y1="425.32" x2="118.88" y2="431.46" stroke="#ff0000" stroke-width="1.3" stroke-dasharray="1.3,1.3"/>
<line x1="125.28" y1="429.98" x2="125.28" y2="436.12" stroke="#ff0000" stroke-width="1.3" stroke-dasharray="1.3,1.3"/>
<line x1="131.66" y1="424.12" x2="131.66" y2="430.26" stroke="#ff0000" stroke-width="1.3" stroke-dasharray="1.3,1.3"/>
<line x1="138.69" y1="418.85" x2="138.69" y2="424.99" stroke="#ff0000" stroke-width="1.3" stroke-dasharray="1.3,1.3"/>
<line x1="147.64" y1="419.39" x2="147.64" y2="429.93" stroke="#ff0000" stroke-width="1.3" stroke-dasharray="1.3,1.3"/>
<line x1="156.16" y1="413.09" x2="156.16" y2="423.63" stroke="#ff0000" stroke-width="1.3" stroke-dasharray="1.3,1.3"/>
<line x1="165.75" y1="419.04" x2="165.75" y2="429.58" stroke="#ff0000" stroke-width="1.3" stroke-dasharray="1.3,1.3"/>
<line x1="177.46" y1="411.79" x2="177.46" y2="427.62" stroke="#ff0000" stroke-width="1.3" stroke-dasharray="1.3,1.3"/>
<line x1="188.75" y1="409.06" x2="188.75" y2="424.89" stroke="#ff0000" stroke-width="1.3" stroke-dasharray="1.3,1.3"/>
<line x1="199.61" y1="406.91" x2="199.61" y2="422.74" stroke="#ff0000" stroke-width="1.3" stroke-dasharray="1.3,1.3"/>
<line x1="210.48" y1="412.97" x2="210.48" y2="428.8" stroke="#ff0000" stroke-width="1.3" stroke-dasharray="1.3,1.3"/>
<line x1="221.12" y1="400.79" x2="221.12" y2="420.16" stroke="#ff0000" stroke-width="1.3" stroke-dasharray="1.3,1.3"/>
<line x1="233.91" y1="398.29" x2="233.91" y2="417.67" stroke="#ff0000" stroke-width="1.3" stroke-dasharray="1.3,1.3"/>
<line x1="249.88" y1="394.19" x2="249.88" y2="417.13" stroke="#ff0000" stroke-width="1.3" stroke-dasharray="1.3,1.3"/>
<line x1="269.05" y1="404.03" x2="269.05" y2="430.54" stroke="#ff0000" stroke-width="1.3" stroke-dasharray="1.3,1.3"/>
<line x1="289.71" y1="433.76" x2="289.71" y2="465.69" stroke="#ff0000" stroke-width="1.3" stroke-dasharray="1.3,1.3"/>
<line x1="316.76" y1="439.9" x2="316.76" y2="479.13" stroke="#ff0000" stroke-width="1.3" stroke-dasharray="1.3,1.3"/>
<line x1="348.71" y1="412.4" x2="348.71" y2="462.87" stroke="#ff0000" stroke-width="1.3" stroke-dasharray="1.3,1.3"/>
<path d="M48.59 388.99l2.15 3.2l-2.15 3.2l-2.15 -3.2z" fill="#ff0000"/>
<path d="M50.73 402.68l2.15 3.2l-2.15 3.2l-2.15 -3.2z" fill="#ff0000"/>
<path d="M52.85 411.16l2.15 3.2l-2.15 3.2l-2.15 -3.2z" fill="#ff0000"/>
<path d="M54.98 420.19l2.15 3.2l-2.15 3.2l-2.15 -3.2z" fill="#ff0000"/>
<path d="M57.12 425.89l2.15 3.2l-2.15 3.2l-2.15 -3.2z" fill="#ff0000"/>
<path d="M59.24 428.43l2.15 3.2l-2.15 3.2l-2.15 -3.2z" fill="#ff0000"/>
<path d="M61.38 429.73l2.15 3.2l-2.15 3.2l-2.15 -3.2z" fill="#ff0000"/>
<path d="M63.51 429.73l2.15 3.2l-2.15 3.2l-2.15 -3.2z" fill="#ff0000"/>
<path d="M65.63 429.73l2.15 3.2l-2.15 3.2l-2.15 -3.2z" fill="#ff0000"/>
<path d="M67.77 429.73l2.15 3.2l-2.15 3.2l-2.15 -3.2z" fill="#ff0000"/>
<path d="M69.89 429.73l2.15 3.2l-2.15 3.2l-2.15 -3.2z" fill="#ff0000"/>
<path d="M72.03 429.73l2.15 3.2l-2.15 3.2l-2.15 -3.2z" fill="#ff0000"/>
<path d="M74.16 429.73l2.15 3.2l-2.15 3.2l-2.15 -3.2z" fill="#ff0000"/>
<path d="M76.28 429.73l2.15 3.2l-2.15 3.2l-2.15 -3.2z" fill="#ff0000"/>
<path d="M78.41 430.39l2.15 3.2l-2.15 3.2l-2.15 -3.2z" fill="#ff0000"/>
<path d="M80.54 430.39l2.15 3.2l-2.15 3.2l-2.15 -3.2z" fill="#ff0000"/>
<path d="M82.67 430.39l2.15 3.2l-2.15 3.2l-2.15 -3.2z" fill="#ff0000"/>
<path d="M84.81 430.39l2.15 3.2l-2.15 3.2l-2.15 -3.2z" fill="#ff0000"/>
<path d="M86.94 430.39l2.15 3.2l-2.15 3.2l-2.15 -3.2z" fill="#ff0000"/>
<path d="M90.13 429.31l2.15 3.2l-2.15 3.2l-2.15 -3.2z" fill="#ff0000"/>
<path d="M94.39 429.96l2.15 3.2l-2.15 3.2l-2.15 -3.2z" fill="#ff0000"/>
<path d="M98.65 431.89l2.15 3.2l-2.15 3.2l-2.15 -3.2z" fill="#ff0000"/>
<path d="M102.91 428.01l2.15 3.2l-2.15 3.2l-2.15 -3.2z" fill="#ff0000"/>
<path d="M107.17 432.86l2.15 3.2l-2.15 3.2l-2.15 -3.2z" fill="#ff0000"/>
<path d="M112.5 429.88l2.15 3.2l-2.15 3.2l-2.15 -3.2z" fill="#ff0000"/>
<path d="M118.88 425.14l2.15 3.2l-2.15 3.2l-2.15 -3.2z" fill="#ff0000"/>
<path d="M125.28 429.8l2.15 3.2l-2.15 3.2l-2.15 -3.2z" fill="#ff0000"/>
<path d="M131.66 423.94l2.15 3.2l-2.15 3.2l-2.15 -3.2z" fill="#ff0000"/>
<path d="M138.69 418.66l2.15 3.2l-2.15 3.2l-2.15 -3.2z" fill="#ff0000"/>
<path d="M147.64 421.3l2.15 3.2l-2.15 3.2l-2.15 -3.2z" fill="#ff0000"/>
<path d="M156.16 415l2.15 3.2l-2.15 3.2l-2.15 -3.2z" fill="#ff0000"/>
<path d="M165.75 420.95l2.15 3.2l-2.15 3.2l-2.15 -3.2z" fill="#ff0000"/>
<path d="M177.46 416.15l2.15 3.2l-2.15 3.2l-2.15 -3.2z" fill="#ff0000"/>
<path d="M188.75 413.41l2.15 3.2l-2.15 3.2l-2.15 -3.2z" fill="#ff0000"/>
<path d="M199.61 411.27l2.15 3.2l-2.15 3.2l-2.15 -3.2z" fill="#ff0000"/>
<path d="M210.48 417.33l2.15 3.2l-2.15 3.2l-2.15 -3.2z" fill="#ff0000"/>
<path d="M221.12 406.74l2.15 3.2l-2.15 3.2l-2.15 -3.2z" fill="#ff0000"/>
<path d="M233.91 404.25l2.15 3.2l-2.15 3.2l-2.15 -3.2z" fill="#ff0000"/>
<path d="M249.88 401.71l2.15 3.2l-2.15 3.2l-2.15 -3.2z" fill="#ff0000"/>
<path d="M269.05 413.09l2.15 3.2l-2.15 3.2l-2.15 -3.2z" fill="#ff0000"/>
<path d="M289.71 445.08l2.15 3.2l-2.15 3.2l-2.15 -3.2z" fill="#ff0000"/>
<path d="M316.76 454.14l2.15 3.2l-2.15 3.2l-2.15 -3.2z" fill="#ff0000"/>
<path d="M348.71 430.86l2.15 3.2l-2.15 3.2l-2.15 -3.2z" fill="#ff0000"/>
</g>
<rect x="45.5" y="317.5" width="325.9" height="160" fill="none" stroke="#000" stroke-width="1.2"/>
<text x="38.3" y="341.1" font-size="11.5" text-anchor="end" fill="#000">2</text>
<text x="373.6" y="341.1" font-size="11.5" fill="#000">2</text>
<text x="38.3" y="401.9" font-size="11.5" text-anchor="end" fill="#000">1</text>
<text x="373.6" y="401.9" font-size="11.5" fill="#000">1</text>
<text x="38.3" y="462.7" font-size="11.5" text-anchor="end" fill="#000">0.5</text>
<text x="373.6" y="462.7" font-size="11.5" fill="#000">0.5</text>
<text transform="translate(18.7,426.3) rotate(-90)" font-size="9.2" fill="#000">Ratio to ALICE</text>
<text x="45.4" y="489.2" font-size="10.8" text-anchor="middle" fill="#000">0</text>
<text x="151.9" y="489.2" font-size="10.8" text-anchor="middle" fill="#000">5</text>
<text x="258.4" y="489.2" font-size="10.8" text-anchor="middle" fill="#000">10</text>
<text x="364.9" y="489.2" font-size="10.8" text-anchor="middle" fill="#000">15</text>
<text x="371.5" y="502" font-size="12" text-anchor="end" fill="#000">p<tspan font-size="8.5" dy="3.5">T</tspan><tspan dy="-3.5"> [GeV]</tspan></text>
</svg></body></html>
